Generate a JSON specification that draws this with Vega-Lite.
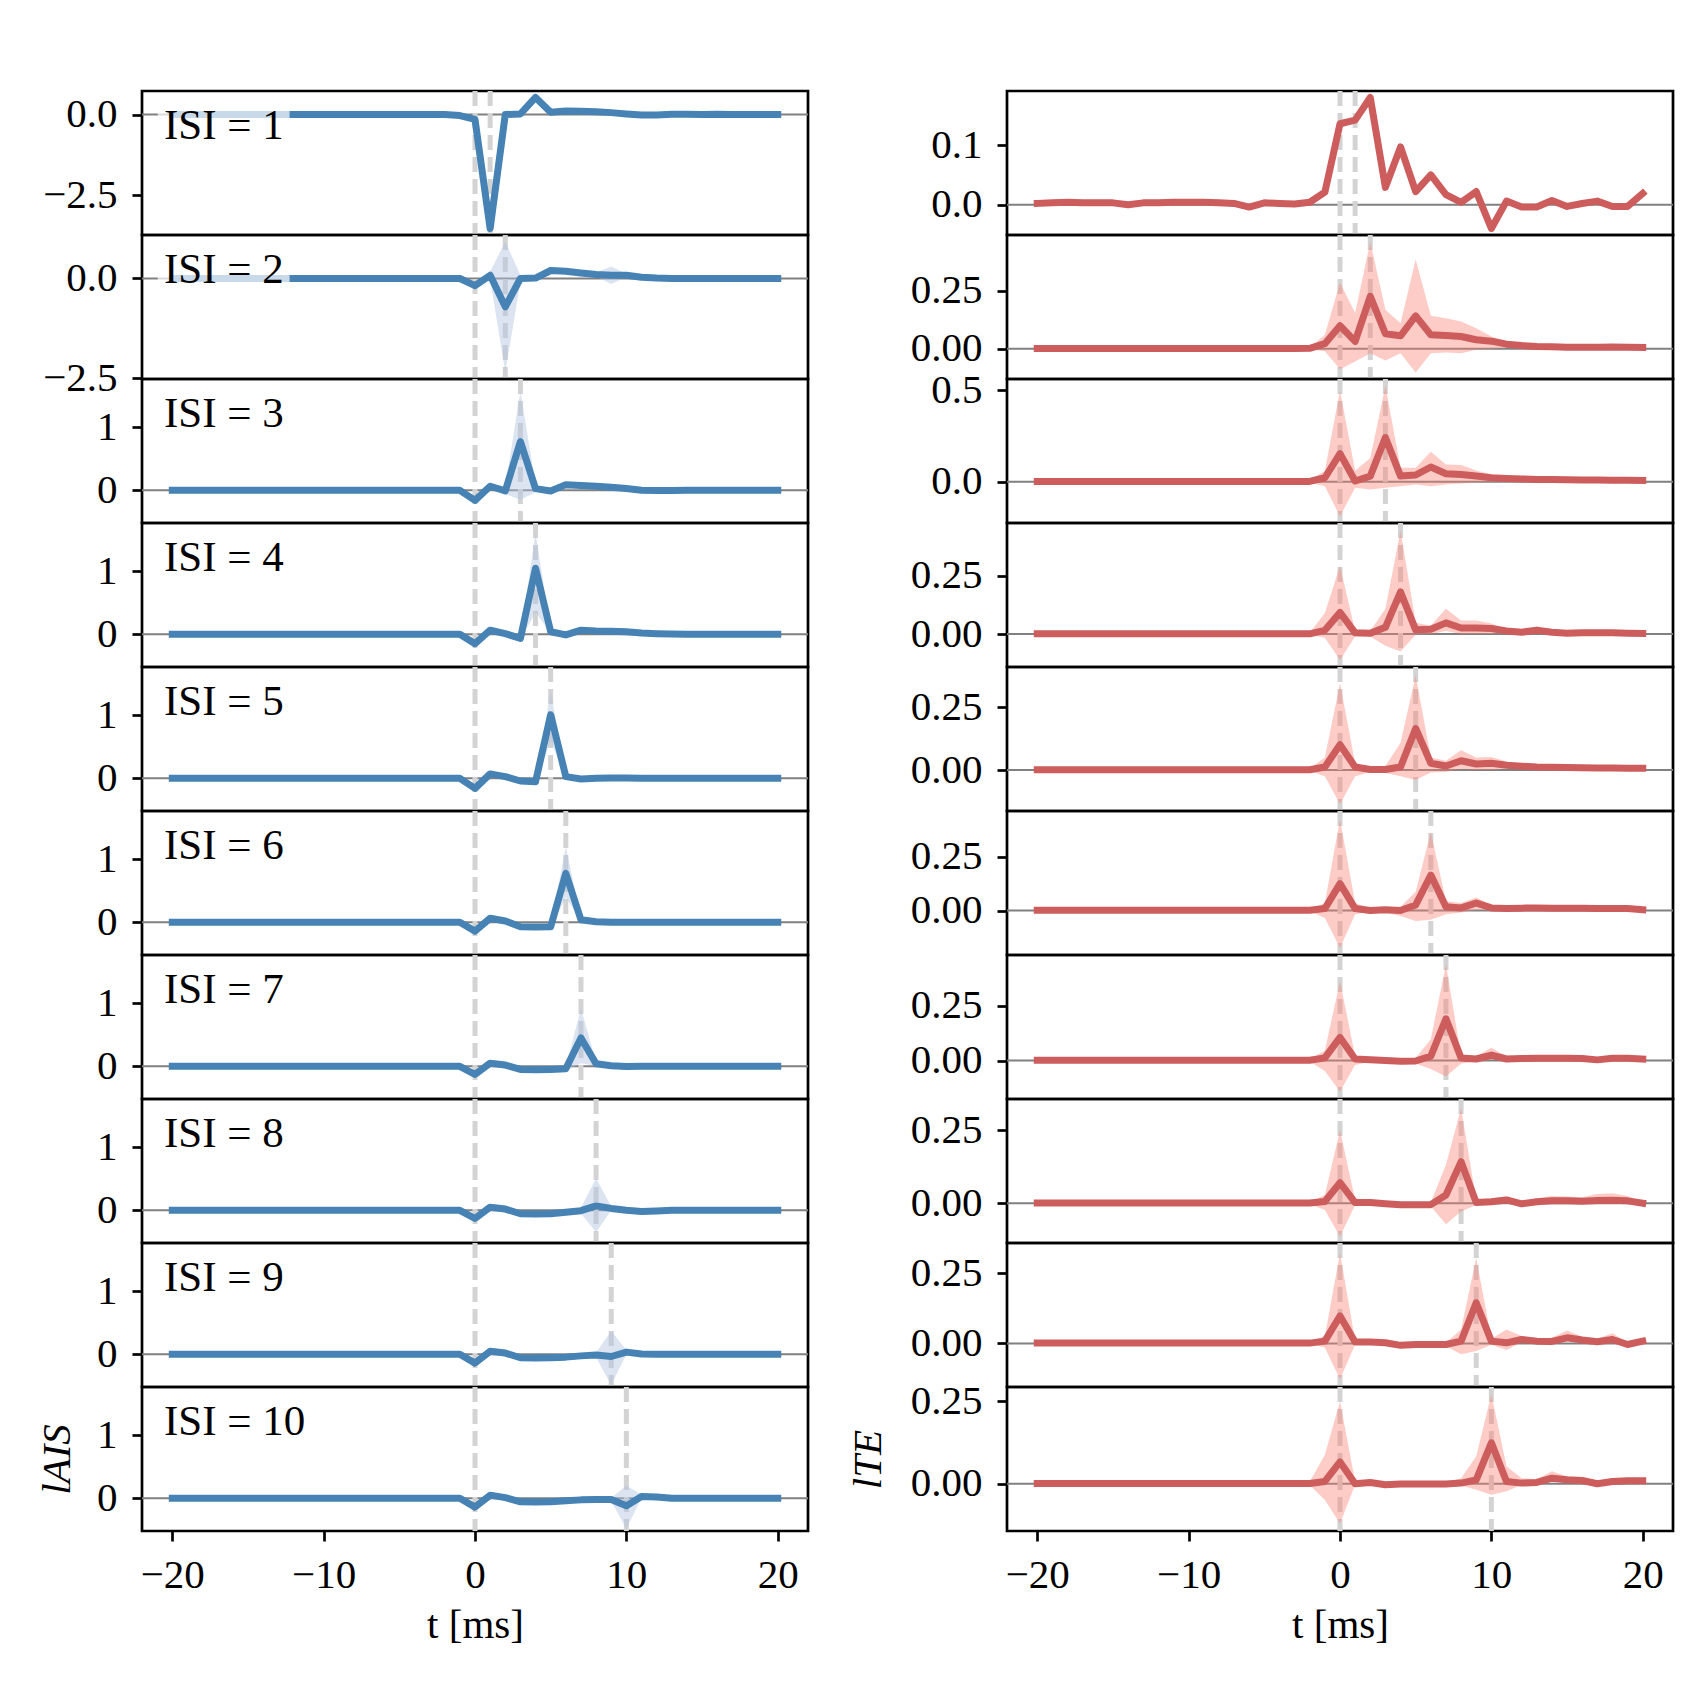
{
"$schema": "https://vega.github.io/schema/vega-lite/v6.json",
"background": "white",
"padding": {"left": 35, "top": 89, "right": 5, "bottom": 5},
"config": {
 "view": {"stroke": "black", "strokeWidth": 2.7},
 "font": "Liberation Serif",
 "concat": {"spacing": 0},
 "line": {"strokeWidth": 7, "strokeJoin": "round", "strokeCap": "square", "clip": true},
 "axis": {"domain": false, "grid": false, "tickColor": "black", "tickWidth": 2.7, "tickSize": 10, "labelFont": "Liberation Serif", "labelFontSize": 41, "labelColor": "black", "labelPadding": 15, "titleFont": "Liberation Serif", "titleFontSize": 41, "titleFontWeight": "normal", "titleColor": "black"}
},
"datasets": {
"panels": [{"isi":1,"label":"ISI = 1"},{"isi":2,"label":"ISI = 2"},{"isi":3,"label":"ISI = 3"},{"isi":4,"label":"ISI = 4"},{"isi":5,"label":"ISI = 5"},{"isi":6,"label":"ISI = 6"},{"isi":7,"label":"ISI = 7"},{"isi":8,"label":"ISI = 8"},{"isi":9,"label":"ISI = 9"},{"isi":10,"label":"ISI = 10"}],
"vlines": [{"isi":1,"t":0},{"isi":1,"t":1},{"isi":2,"t":0},{"isi":2,"t":2},{"isi":3,"t":0},{"isi":3,"t":3},{"isi":4,"t":0},{"isi":4,"t":4},{"isi":5,"t":0},{"isi":5,"t":5},{"isi":6,"t":0},{"isi":6,"t":6},{"isi":7,"t":0},{"isi":7,"t":7},{"isi":8,"t":0},{"isi":8,"t":8},{"isi":9,"t":0},{"isi":9,"t":9},{"isi":10,"t":0},{"isi":10,"t":10}],
"lais": [
{"isi":1,"t":-20,"m":0,"lo":0,"hi":0},{"isi":1,"t":-19,"m":0,"lo":0,"hi":0},{"isi":1,"t":-18,"m":0,"lo":0,"hi":0},{"isi":1,"t":-17,"m":0,"lo":0,"hi":0},{"isi":1,"t":-16,"m":0,"lo":0,"hi":0},{"isi":1,"t":-15,"m":0,"lo":0,"hi":0},{"isi":1,"t":-14,"m":0,"lo":0,"hi":0},{"isi":1,"t":-13,"m":0,"lo":0,"hi":0},{"isi":1,"t":-12,"m":0,"lo":0,"hi":0},{"isi":1,"t":-11,"m":0,"lo":0,"hi":0},{"isi":1,"t":-10,"m":0,"lo":0,"hi":0},{"isi":1,"t":-9,"m":0,"lo":0,"hi":0},{"isi":1,"t":-8,"m":0,"lo":0,"hi":0},{"isi":1,"t":-7,"m":0,"lo":0,"hi":0},{"isi":1,"t":-6,"m":0,"lo":0,"hi":0},{"isi":1,"t":-5,"m":0,"lo":0,"hi":0},{"isi":1,"t":-4,"m":0,"lo":0,"hi":0},{"isi":1,"t":-3,"m":0,"lo":0,"hi":0},{"isi":1,"t":-2,"m":0,"lo":0,"hi":0},
{"isi":1,"t":-1,"m":-0.03,"lo":-0.03,"hi":-0.03},{"isi":1,"t":0,"m":-0.15,"lo":-0.15,"hi":-0.15},{"isi":1,"t":1,"m":-3.53,"lo":-3.53,"hi":-3.53},{"isi":1,"t":2,"m":0,"lo":0,"hi":0},{"isi":1,"t":3,"m":0.02,"lo":0.02,"hi":0.02},{"isi":1,"t":4,"m":0.53,"lo":0.53,"hi":0.53},{"isi":1,"t":5,"m":0.07,"lo":0.07,"hi":0.07},{"isi":1,"t":6,"m":0.11,"lo":0.11,"hi":0.11},{"isi":1,"t":7,"m":0.1,"lo":0.1,"hi":0.1},{"isi":1,"t":8,"m":0.09,"lo":0.09,"hi":0.09},{"isi":1,"t":9,"m":0.06,"lo":0.06,"hi":0.06},{"isi":1,"t":10,"m":0.02,"lo":0.02,"hi":0.02},{"isi":1,"t":11,"m":-0.01,"lo":-0.01,"hi":-0.01},{"isi":1,"t":12,"m":-0.01,"lo":-0.01,"hi":-0.01},{"isi":1,"t":13,"m":0.01,"lo":0.01,"hi":0.01},{"isi":1,"t":14,"m":0.01,"lo":0.01,"hi":0.01},{"isi":1,"t":15,"m":0,"lo":0,"hi":0},{"isi":1,"t":16,"m":0.01,"lo":0.01,"hi":0.01},{"isi":1,"t":17,"m":0,"lo":0,"hi":0},{"isi":1,"t":18,"m":0,"lo":0,"hi":0},{"isi":1,"t":19,"m":0,"lo":0,"hi":0},{"isi":1,"t":20,"m":0,"lo":0,"hi":0},
{"isi":2,"t":-20,"m":0,"lo":0,"hi":0},{"isi":2,"t":-19,"m":0,"lo":0,"hi":0},{"isi":2,"t":-18,"m":0,"lo":0,"hi":0},{"isi":2,"t":-17,"m":0,"lo":0,"hi":0},{"isi":2,"t":-16,"m":0,"lo":0,"hi":0},{"isi":2,"t":-15,"m":0,"lo":0,"hi":0},{"isi":2,"t":-14,"m":0,"lo":0,"hi":0},{"isi":2,"t":-13,"m":0,"lo":0,"hi":0},{"isi":2,"t":-12,"m":0,"lo":0,"hi":0},{"isi":2,"t":-11,"m":0,"lo":0,"hi":0},{"isi":2,"t":-10,"m":0,"lo":0,"hi":0},{"isi":2,"t":-9,"m":0,"lo":0,"hi":0},{"isi":2,"t":-8,"m":0,"lo":0,"hi":0},{"isi":2,"t":-7,"m":0,"lo":0,"hi":0},{"isi":2,"t":-6,"m":0,"lo":0,"hi":0},{"isi":2,"t":-5,"m":0,"lo":0,"hi":0},{"isi":2,"t":-4,"m":0,"lo":0,"hi":0},{"isi":2,"t":-3,"m":0,"lo":0,"hi":0},{"isi":2,"t":-2,"m":0,"lo":0,"hi":0},
{"isi":2,"t":-1,"m":0,"lo":0,"hi":0},{"isi":2,"t":0,"m":-0.18,"lo":-0.22,"hi":-0.13},{"isi":2,"t":1,"m":0.08,"lo":-0.02,"hi":0.16},{"isi":2,"t":2,"m":-0.71,"lo":-2.35,"hi":0.93},{"isi":2,"t":3,"m":0,"lo":-0.08,"hi":0.08},{"isi":2,"t":4,"m":0.01,"lo":-0.02,"hi":0.05},{"isi":2,"t":5,"m":0.2,"lo":0.14,"hi":0.27},{"isi":2,"t":6,"m":0.18,"lo":0.13,"hi":0.24},{"isi":2,"t":7,"m":0.14,"lo":0.1,"hi":0.19},{"isi":2,"t":8,"m":0.1,"lo":0.05,"hi":0.15},{"isi":2,"t":9,"m":0.08,"lo":-0.14,"hi":0.3},{"isi":2,"t":10,"m":0.08,"lo":0.04,"hi":0.12},{"isi":2,"t":11,"m":0.03,"lo":0,"hi":0.06},{"isi":2,"t":12,"m":0.01,"lo":0.01,"hi":0.01},{"isi":2,"t":13,"m":0,"lo":0,"hi":0},{"isi":2,"t":14,"m":0,"lo":0,"hi":0},{"isi":2,"t":15,"m":0,"lo":0,"hi":0},{"isi":2,"t":16,"m":0,"lo":0,"hi":0},{"isi":2,"t":17,"m":0,"lo":0,"hi":0},{"isi":2,"t":18,"m":0,"lo":0,"hi":0},{"isi":2,"t":19,"m":0,"lo":0,"hi":0},{"isi":2,"t":20,"m":0,"lo":0,"hi":0},
{"isi":3,"t":-20,"m":0,"lo":0,"hi":0},{"isi":3,"t":-19,"m":0,"lo":0,"hi":0},{"isi":3,"t":-18,"m":0,"lo":0,"hi":0},{"isi":3,"t":-17,"m":0,"lo":0,"hi":0},{"isi":3,"t":-16,"m":0,"lo":0,"hi":0},{"isi":3,"t":-15,"m":0,"lo":0,"hi":0},{"isi":3,"t":-14,"m":0,"lo":0,"hi":0},{"isi":3,"t":-13,"m":0,"lo":0,"hi":0},{"isi":3,"t":-12,"m":0,"lo":0,"hi":0},{"isi":3,"t":-11,"m":0,"lo":0,"hi":0},{"isi":3,"t":-10,"m":0,"lo":0,"hi":0},{"isi":3,"t":-9,"m":0,"lo":0,"hi":0},{"isi":3,"t":-8,"m":0,"lo":0,"hi":0},{"isi":3,"t":-7,"m":0,"lo":0,"hi":0},{"isi":3,"t":-6,"m":0,"lo":0,"hi":0},{"isi":3,"t":-5,"m":0,"lo":0,"hi":0},{"isi":3,"t":-4,"m":0,"lo":0,"hi":0},{"isi":3,"t":-3,"m":0,"lo":0,"hi":0},{"isi":3,"t":-2,"m":0,"lo":0,"hi":0},
{"isi":3,"t":-1,"m":0,"lo":0,"hi":0},{"isi":3,"t":0,"m":-0.16,"lo":-0.16,"hi":-0.16},{"isi":3,"t":1,"m":0.064,"lo":0.064,"hi":0.064},{"isi":3,"t":2,"m":-0.01,"lo":-0.06,"hi":0.05},{"isi":3,"t":3,"m":0.776,"lo":-0.15,"hi":1.58},{"isi":3,"t":4,"m":0.027,"lo":-0.03,"hi":0.09},{"isi":3,"t":5,"m":-0.01,"lo":-0.01,"hi":-0.01},{"isi":3,"t":6,"m":0.09,"lo":0.09,"hi":0.09},{"isi":3,"t":7,"m":0.075,"lo":0.075,"hi":0.075},{"isi":3,"t":8,"m":0.064,"lo":0.064,"hi":0.064},{"isi":3,"t":9,"m":0.05,"lo":0.05,"hi":0.05},{"isi":3,"t":10,"m":0.027,"lo":0.027,"hi":0.027},{"isi":3,"t":11,"m":0,"lo":0,"hi":0},{"isi":3,"t":12,"m":-0.005,"lo":-0.005,"hi":-0.005},{"isi":3,"t":13,"m":-0.005,"lo":-0.005,"hi":-0.005},{"isi":3,"t":14,"m":0,"lo":0,"hi":0},{"isi":3,"t":15,"m":0,"lo":0,"hi":0},{"isi":3,"t":16,"m":0,"lo":0,"hi":0},{"isi":3,"t":17,"m":0,"lo":0,"hi":0},{"isi":3,"t":18,"m":0,"lo":0,"hi":0},{"isi":3,"t":19,"m":0,"lo":0,"hi":0},{"isi":3,"t":20,"m":0,"lo":0,"hi":0},
{"isi":4,"t":-20,"m":0,"lo":0,"hi":0},{"isi":4,"t":-19,"m":0,"lo":0,"hi":0},{"isi":4,"t":-18,"m":0,"lo":0,"hi":0},{"isi":4,"t":-17,"m":0,"lo":0,"hi":0},{"isi":4,"t":-16,"m":0,"lo":0,"hi":0},{"isi":4,"t":-15,"m":0,"lo":0,"hi":0},{"isi":4,"t":-14,"m":0,"lo":0,"hi":0},{"isi":4,"t":-13,"m":0,"lo":0,"hi":0},{"isi":4,"t":-12,"m":0,"lo":0,"hi":0},{"isi":4,"t":-11,"m":0,"lo":0,"hi":0},{"isi":4,"t":-10,"m":0,"lo":0,"hi":0},{"isi":4,"t":-9,"m":0,"lo":0,"hi":0},{"isi":4,"t":-8,"m":0,"lo":0,"hi":0},{"isi":4,"t":-7,"m":0,"lo":0,"hi":0},{"isi":4,"t":-6,"m":0,"lo":0,"hi":0},{"isi":4,"t":-5,"m":0,"lo":0,"hi":0},{"isi":4,"t":-4,"m":0,"lo":0,"hi":0},{"isi":4,"t":-3,"m":0,"lo":0,"hi":0},{"isi":4,"t":-2,"m":0,"lo":0,"hi":0},
{"isi":4,"t":-1,"m":0,"lo":0,"hi":0},{"isi":4,"t":0,"m":-0.15,"lo":-0.15,"hi":-0.15},{"isi":4,"t":1,"m":0.065,"lo":0.065,"hi":0.065},{"isi":4,"t":2,"m":0.01,"lo":0.01,"hi":0.01},{"isi":4,"t":3,"m":-0.065,"lo":-0.09,"hi":-0.04},{"isi":4,"t":4,"m":1.05,"lo":0.35,"hi":1.62},{"isi":4,"t":5,"m":0.04,"lo":0.02,"hi":0.07},{"isi":4,"t":6,"m":-0.01,"lo":-0.01,"hi":-0.01},{"isi":4,"t":7,"m":0.065,"lo":0.065,"hi":0.065},{"isi":4,"t":8,"m":0.054,"lo":0.054,"hi":0.054},{"isi":4,"t":9,"m":0.05,"lo":0.05,"hi":0.05},{"isi":4,"t":10,"m":0.04,"lo":0.04,"hi":0.04},{"isi":4,"t":11,"m":0.02,"lo":0.02,"hi":0.02},{"isi":4,"t":12,"m":0.01,"lo":0.01,"hi":0.01},{"isi":4,"t":13,"m":0.005,"lo":0.005,"hi":0.005},{"isi":4,"t":14,"m":0,"lo":0,"hi":0},{"isi":4,"t":15,"m":0,"lo":0,"hi":0},{"isi":4,"t":16,"m":0,"lo":0,"hi":0},{"isi":4,"t":17,"m":0,"lo":0,"hi":0},{"isi":4,"t":18,"m":0,"lo":0,"hi":0},{"isi":4,"t":19,"m":0,"lo":0,"hi":0},{"isi":4,"t":20,"m":0,"lo":0,"hi":0},
{"isi":5,"t":-20,"m":0,"lo":0,"hi":0},{"isi":5,"t":-19,"m":0,"lo":0,"hi":0},{"isi":5,"t":-18,"m":0,"lo":0,"hi":0},{"isi":5,"t":-17,"m":0,"lo":0,"hi":0},{"isi":5,"t":-16,"m":0,"lo":0,"hi":0},{"isi":5,"t":-15,"m":0,"lo":0,"hi":0},{"isi":5,"t":-14,"m":0,"lo":0,"hi":0},{"isi":5,"t":-13,"m":0,"lo":0,"hi":0},{"isi":5,"t":-12,"m":0,"lo":0,"hi":0},{"isi":5,"t":-11,"m":0,"lo":0,"hi":0},{"isi":5,"t":-10,"m":0,"lo":0,"hi":0},{"isi":5,"t":-9,"m":0,"lo":0,"hi":0},{"isi":5,"t":-8,"m":0,"lo":0,"hi":0},{"isi":5,"t":-7,"m":0,"lo":0,"hi":0},{"isi":5,"t":-6,"m":0,"lo":0,"hi":0},{"isi":5,"t":-5,"m":0,"lo":0,"hi":0},{"isi":5,"t":-4,"m":0,"lo":0,"hi":0},{"isi":5,"t":-3,"m":0,"lo":0,"hi":0},{"isi":5,"t":-2,"m":0,"lo":0,"hi":0},
{"isi":5,"t":-1,"m":0,"lo":0,"hi":0},{"isi":5,"t":0,"m":-0.16,"lo":-0.16,"hi":-0.16},{"isi":5,"t":1,"m":0.07,"lo":0.07,"hi":0.07},{"isi":5,"t":2,"m":0.027,"lo":0.027,"hi":0.027},{"isi":5,"t":3,"m":-0.043,"lo":-0.043,"hi":-0.043},{"isi":5,"t":4,"m":-0.054,"lo":-0.07,"hi":-0.03},{"isi":5,"t":5,"m":1.01,"lo":0.6,"hi":1.38},{"isi":5,"t":6,"m":0.027,"lo":0,"hi":0.05},{"isi":5,"t":7,"m":-0.01,"lo":-0.01,"hi":-0.01},{"isi":5,"t":8,"m":0,"lo":0,"hi":0},{"isi":5,"t":9,"m":0.005,"lo":0.005,"hi":0.005},{"isi":5,"t":10,"m":0.005,"lo":0.005,"hi":0.005},{"isi":5,"t":11,"m":0,"lo":0,"hi":0},{"isi":5,"t":12,"m":0,"lo":0,"hi":0},{"isi":5,"t":13,"m":0,"lo":0,"hi":0},{"isi":5,"t":14,"m":0,"lo":0,"hi":0},{"isi":5,"t":15,"m":0,"lo":0,"hi":0},{"isi":5,"t":16,"m":0,"lo":0,"hi":0},{"isi":5,"t":17,"m":0,"lo":0,"hi":0},{"isi":5,"t":18,"m":0,"lo":0,"hi":0},{"isi":5,"t":19,"m":0,"lo":0,"hi":0},{"isi":5,"t":20,"m":0,"lo":0,"hi":0},
{"isi":6,"t":-20,"m":0,"lo":0,"hi":0},{"isi":6,"t":-19,"m":0,"lo":0,"hi":0},{"isi":6,"t":-18,"m":0,"lo":0,"hi":0},{"isi":6,"t":-17,"m":0,"lo":0,"hi":0},{"isi":6,"t":-16,"m":0,"lo":0,"hi":0},{"isi":6,"t":-15,"m":0,"lo":0,"hi":0},{"isi":6,"t":-14,"m":0,"lo":0,"hi":0},{"isi":6,"t":-13,"m":0,"lo":0,"hi":0},{"isi":6,"t":-12,"m":0,"lo":0,"hi":0},{"isi":6,"t":-11,"m":0,"lo":0,"hi":0},{"isi":6,"t":-10,"m":0,"lo":0,"hi":0},{"isi":6,"t":-9,"m":0,"lo":0,"hi":0},{"isi":6,"t":-8,"m":0,"lo":0,"hi":0},{"isi":6,"t":-7,"m":0,"lo":0,"hi":0},{"isi":6,"t":-6,"m":0,"lo":0,"hi":0},{"isi":6,"t":-5,"m":0,"lo":0,"hi":0},{"isi":6,"t":-4,"m":0,"lo":0,"hi":0},{"isi":6,"t":-3,"m":0,"lo":0,"hi":0},{"isi":6,"t":-2,"m":0,"lo":0,"hi":0},
{"isi":6,"t":-1,"m":0,"lo":0,"hi":0},{"isi":6,"t":0,"m":-0.14,"lo":-0.14,"hi":-0.14},{"isi":6,"t":1,"m":0.065,"lo":0.065,"hi":0.065},{"isi":6,"t":2,"m":0.02,"lo":0.02,"hi":0.02},{"isi":6,"t":3,"m":-0.07,"lo":-0.07,"hi":-0.07},{"isi":6,"t":4,"m":-0.076,"lo":-0.076,"hi":-0.076},{"isi":6,"t":5,"m":-0.07,"lo":-0.09,"hi":-0.05},{"isi":6,"t":6,"m":0.78,"lo":0.4,"hi":1.2},{"isi":6,"t":7,"m":0.04,"lo":0.02,"hi":0.06},{"isi":6,"t":8,"m":0.01,"lo":0.01,"hi":0.01},{"isi":6,"t":9,"m":0,"lo":0,"hi":0},{"isi":6,"t":10,"m":0,"lo":0,"hi":0},{"isi":6,"t":11,"m":0,"lo":0,"hi":0},{"isi":6,"t":12,"m":0,"lo":0,"hi":0},{"isi":6,"t":13,"m":0,"lo":0,"hi":0},{"isi":6,"t":14,"m":0,"lo":0,"hi":0},{"isi":6,"t":15,"m":0,"lo":0,"hi":0},{"isi":6,"t":16,"m":0,"lo":0,"hi":0},{"isi":6,"t":17,"m":0,"lo":0,"hi":0},{"isi":6,"t":18,"m":0,"lo":0,"hi":0},{"isi":6,"t":19,"m":0,"lo":0,"hi":0},{"isi":6,"t":20,"m":0,"lo":0,"hi":0},
{"isi":7,"t":-20,"m":0,"lo":0,"hi":0},{"isi":7,"t":-19,"m":0,"lo":0,"hi":0},{"isi":7,"t":-18,"m":0,"lo":0,"hi":0},{"isi":7,"t":-17,"m":0,"lo":0,"hi":0},{"isi":7,"t":-16,"m":0,"lo":0,"hi":0},{"isi":7,"t":-15,"m":0,"lo":0,"hi":0},{"isi":7,"t":-14,"m":0,"lo":0,"hi":0},{"isi":7,"t":-13,"m":0,"lo":0,"hi":0},{"isi":7,"t":-12,"m":0,"lo":0,"hi":0},{"isi":7,"t":-11,"m":0,"lo":0,"hi":0},{"isi":7,"t":-10,"m":0,"lo":0,"hi":0},{"isi":7,"t":-9,"m":0,"lo":0,"hi":0},{"isi":7,"t":-8,"m":0,"lo":0,"hi":0},{"isi":7,"t":-7,"m":0,"lo":0,"hi":0},{"isi":7,"t":-6,"m":0,"lo":0,"hi":0},{"isi":7,"t":-5,"m":0,"lo":0,"hi":0},{"isi":7,"t":-4,"m":0,"lo":0,"hi":0},{"isi":7,"t":-3,"m":0,"lo":0,"hi":0},{"isi":7,"t":-2,"m":0,"lo":0,"hi":0},
{"isi":7,"t":-1,"m":0,"lo":0,"hi":0},{"isi":7,"t":0,"m":-0.13,"lo":-0.13,"hi":-0.13},{"isi":7,"t":1,"m":0.05,"lo":0.05,"hi":0.05},{"isi":7,"t":2,"m":0.02,"lo":0.02,"hi":0.02},{"isi":7,"t":3,"m":-0.05,"lo":-0.05,"hi":-0.05},{"isi":7,"t":4,"m":-0.055,"lo":-0.055,"hi":-0.055},{"isi":7,"t":5,"m":-0.05,"lo":-0.05,"hi":-0.05},{"isi":7,"t":6,"m":-0.04,"lo":-0.07,"hi":-0.01},{"isi":7,"t":7,"m":0.45,"lo":0.05,"hi":0.92},{"isi":7,"t":8,"m":0.04,"lo":0.01,"hi":0.07},{"isi":7,"t":9,"m":0.01,"lo":0.01,"hi":0.01},{"isi":7,"t":10,"m":-0.005,"lo":-0.005,"hi":-0.005},{"isi":7,"t":11,"m":0,"lo":0,"hi":0},{"isi":7,"t":12,"m":0,"lo":0,"hi":0},{"isi":7,"t":13,"m":0,"lo":0,"hi":0},{"isi":7,"t":14,"m":0,"lo":0,"hi":0},{"isi":7,"t":15,"m":0,"lo":0,"hi":0},{"isi":7,"t":16,"m":0,"lo":0,"hi":0},{"isi":7,"t":17,"m":0,"lo":0,"hi":0},{"isi":7,"t":18,"m":0,"lo":0,"hi":0},{"isi":7,"t":19,"m":0,"lo":0,"hi":0},{"isi":7,"t":20,"m":0,"lo":0,"hi":0},
{"isi":8,"t":-20,"m":0,"lo":0,"hi":0},{"isi":8,"t":-19,"m":0,"lo":0,"hi":0},{"isi":8,"t":-18,"m":0,"lo":0,"hi":0},{"isi":8,"t":-17,"m":0,"lo":0,"hi":0},{"isi":8,"t":-16,"m":0,"lo":0,"hi":0},{"isi":8,"t":-15,"m":0,"lo":0,"hi":0},{"isi":8,"t":-14,"m":0,"lo":0,"hi":0},{"isi":8,"t":-13,"m":0,"lo":0,"hi":0},{"isi":8,"t":-12,"m":0,"lo":0,"hi":0},{"isi":8,"t":-11,"m":0,"lo":0,"hi":0},{"isi":8,"t":-10,"m":0,"lo":0,"hi":0},{"isi":8,"t":-9,"m":0,"lo":0,"hi":0},{"isi":8,"t":-8,"m":0,"lo":0,"hi":0},{"isi":8,"t":-7,"m":0,"lo":0,"hi":0},{"isi":8,"t":-6,"m":0,"lo":0,"hi":0},{"isi":8,"t":-5,"m":0,"lo":0,"hi":0},{"isi":8,"t":-4,"m":0,"lo":0,"hi":0},{"isi":8,"t":-3,"m":0,"lo":0,"hi":0},{"isi":8,"t":-2,"m":0,"lo":0,"hi":0},
{"isi":8,"t":-1,"m":0,"lo":0,"hi":0},{"isi":8,"t":0,"m":-0.13,"lo":-0.13,"hi":-0.13},{"isi":8,"t":1,"m":0.05,"lo":0.05,"hi":0.05},{"isi":8,"t":2,"m":0.02,"lo":0.02,"hi":0.02},{"isi":8,"t":3,"m":-0.055,"lo":-0.055,"hi":-0.055},{"isi":8,"t":4,"m":-0.06,"lo":-0.06,"hi":-0.06},{"isi":8,"t":5,"m":-0.055,"lo":-0.055,"hi":-0.055},{"isi":8,"t":6,"m":-0.03,"lo":-0.03,"hi":-0.03},{"isi":8,"t":7,"m":-0.006,"lo":-0.05,"hi":0.04},{"isi":8,"t":8,"m":0.07,"lo":-0.35,"hi":0.51},{"isi":8,"t":9,"m":0.03,"lo":0,"hi":0.06},{"isi":8,"t":10,"m":0,"lo":0,"hi":0},{"isi":8,"t":11,"m":-0.02,"lo":-0.02,"hi":-0.02},{"isi":8,"t":12,"m":-0.01,"lo":-0.01,"hi":-0.01},{"isi":8,"t":13,"m":0,"lo":0,"hi":0},{"isi":8,"t":14,"m":0,"lo":0,"hi":0},{"isi":8,"t":15,"m":0,"lo":0,"hi":0},{"isi":8,"t":16,"m":0,"lo":0,"hi":0},{"isi":8,"t":17,"m":0,"lo":0,"hi":0},{"isi":8,"t":18,"m":0,"lo":0,"hi":0},{"isi":8,"t":19,"m":0,"lo":0,"hi":0},{"isi":8,"t":20,"m":0,"lo":0,"hi":0},
{"isi":9,"t":-20,"m":0,"lo":0,"hi":0},{"isi":9,"t":-19,"m":0,"lo":0,"hi":0},{"isi":9,"t":-18,"m":0,"lo":0,"hi":0},{"isi":9,"t":-17,"m":0,"lo":0,"hi":0},{"isi":9,"t":-16,"m":0,"lo":0,"hi":0},{"isi":9,"t":-15,"m":0,"lo":0,"hi":0},{"isi":9,"t":-14,"m":0,"lo":0,"hi":0},{"isi":9,"t":-13,"m":0,"lo":0,"hi":0},{"isi":9,"t":-12,"m":0,"lo":0,"hi":0},{"isi":9,"t":-11,"m":0,"lo":0,"hi":0},{"isi":9,"t":-10,"m":0,"lo":0,"hi":0},{"isi":9,"t":-9,"m":0,"lo":0,"hi":0},{"isi":9,"t":-8,"m":0,"lo":0,"hi":0},{"isi":9,"t":-7,"m":0,"lo":0,"hi":0},{"isi":9,"t":-6,"m":0,"lo":0,"hi":0},{"isi":9,"t":-5,"m":0,"lo":0,"hi":0},{"isi":9,"t":-4,"m":0,"lo":0,"hi":0},{"isi":9,"t":-3,"m":0,"lo":0,"hi":0},{"isi":9,"t":-2,"m":0,"lo":0,"hi":0},
{"isi":9,"t":-1,"m":0,"lo":0,"hi":0},{"isi":9,"t":0,"m":-0.14,"lo":-0.14,"hi":-0.14},{"isi":9,"t":1,"m":0.05,"lo":0.05,"hi":0.05},{"isi":9,"t":2,"m":0.02,"lo":0.02,"hi":0.02},{"isi":9,"t":3,"m":-0.055,"lo":-0.055,"hi":-0.055},{"isi":9,"t":4,"m":-0.06,"lo":-0.06,"hi":-0.06},{"isi":9,"t":5,"m":-0.055,"lo":-0.055,"hi":-0.055},{"isi":9,"t":6,"m":-0.045,"lo":-0.045,"hi":-0.045},{"isi":9,"t":7,"m":-0.025,"lo":-0.025,"hi":-0.025},{"isi":9,"t":8,"m":-0.012,"lo":-0.05,"hi":0.03},{"isi":9,"t":9,"m":-0.035,"lo":-0.49,"hi":0.37},{"isi":9,"t":10,"m":0.035,"lo":0,"hi":0.07},{"isi":9,"t":11,"m":0.005,"lo":0.005,"hi":0.005},{"isi":9,"t":12,"m":0,"lo":0,"hi":0},{"isi":9,"t":13,"m":0,"lo":0,"hi":0},{"isi":9,"t":14,"m":0,"lo":0,"hi":0},{"isi":9,"t":15,"m":0,"lo":0,"hi":0},{"isi":9,"t":16,"m":0,"lo":0,"hi":0},{"isi":9,"t":17,"m":0,"lo":0,"hi":0},{"isi":9,"t":18,"m":0,"lo":0,"hi":0},{"isi":9,"t":19,"m":0,"lo":0,"hi":0},{"isi":9,"t":20,"m":0,"lo":0,"hi":0},
{"isi":10,"t":-20,"m":0,"lo":0,"hi":0},{"isi":10,"t":-19,"m":0,"lo":0,"hi":0},{"isi":10,"t":-18,"m":0,"lo":0,"hi":0},{"isi":10,"t":-17,"m":0,"lo":0,"hi":0},{"isi":10,"t":-16,"m":0,"lo":0,"hi":0},{"isi":10,"t":-15,"m":0,"lo":0,"hi":0},{"isi":10,"t":-14,"m":0,"lo":0,"hi":0},{"isi":10,"t":-13,"m":0,"lo":0,"hi":0},{"isi":10,"t":-12,"m":0,"lo":0,"hi":0},{"isi":10,"t":-11,"m":0,"lo":0,"hi":0},{"isi":10,"t":-10,"m":0,"lo":0,"hi":0},{"isi":10,"t":-9,"m":0,"lo":0,"hi":0},{"isi":10,"t":-8,"m":0,"lo":0,"hi":0},{"isi":10,"t":-7,"m":0,"lo":0,"hi":0},{"isi":10,"t":-6,"m":0,"lo":0,"hi":0},{"isi":10,"t":-5,"m":0,"lo":0,"hi":0},{"isi":10,"t":-4,"m":0,"lo":0,"hi":0},{"isi":10,"t":-3,"m":0,"lo":0,"hi":0},{"isi":10,"t":-2,"m":0,"lo":0,"hi":0},
{"isi":10,"t":-1,"m":0,"lo":0,"hi":0},{"isi":10,"t":0,"m":-0.14,"lo":-0.14,"hi":-0.14},{"isi":10,"t":1,"m":0.05,"lo":0.05,"hi":0.05},{"isi":10,"t":2,"m":0.01,"lo":0.01,"hi":0.01},{"isi":10,"t":3,"m":-0.055,"lo":-0.055,"hi":-0.055},{"isi":10,"t":4,"m":-0.06,"lo":-0.06,"hi":-0.06},{"isi":10,"t":5,"m":-0.055,"lo":-0.055,"hi":-0.055},{"isi":10,"t":6,"m":-0.04,"lo":-0.04,"hi":-0.04},{"isi":10,"t":7,"m":-0.025,"lo":-0.025,"hi":-0.025},{"isi":10,"t":8,"m":-0.02,"lo":-0.02,"hi":-0.02},{"isi":10,"t":9,"m":-0.02,"lo":-0.05,"hi":0.01},{"isi":10,"t":10,"m":-0.12,"lo":-0.48,"hi":0.2},{"isi":10,"t":11,"m":0.03,"lo":0,"hi":0.06},{"isi":10,"t":12,"m":0.02,"lo":0.02,"hi":0.02},{"isi":10,"t":13,"m":0,"lo":0,"hi":0},{"isi":10,"t":14,"m":0,"lo":0,"hi":0},{"isi":10,"t":15,"m":0,"lo":0,"hi":0},{"isi":10,"t":16,"m":0,"lo":0,"hi":0},{"isi":10,"t":17,"m":0,"lo":0,"hi":0},{"isi":10,"t":18,"m":0,"lo":0,"hi":0},{"isi":10,"t":19,"m":0,"lo":0,"hi":0},{"isi":10,"t":20,"m":0,"lo":0,"hi":0}
],
"lte": [
{"isi":1,"t":-20,"m":0.002,"lo":0.002,"hi":0.002},{"isi":1,"t":-19,"m":0.003,"lo":0.003,"hi":0.003},{"isi":1,"t":-18,"m":0.004,"lo":0.004,"hi":0.004},{"isi":1,"t":-17,"m":0.003,"lo":0.003,"hi":0.003},{"isi":1,"t":-16,"m":0.003,"lo":0.003,"hi":0.003},{"isi":1,"t":-15,"m":0.003,"lo":0.003,"hi":0.003},{"isi":1,"t":-14,"m":0,"lo":0,"hi":0},{"isi":1,"t":-13,"m":0.003,"lo":0.003,"hi":0.003},{"isi":1,"t":-12,"m":0.003,"lo":0.003,"hi":0.003},{"isi":1,"t":-11,"m":0.004,"lo":0.004,"hi":0.004},{"isi":1,"t":-10,"m":0.004,"lo":0.004,"hi":0.004},{"isi":1,"t":-9,"m":0.004,"lo":0.004,"hi":0.004},{"isi":1,"t":-8,"m":0.003,"lo":0.003,"hi":0.003},{"isi":1,"t":-7,"m":0.002,"lo":0.002,"hi":0.002},{"isi":1,"t":-6,"m":-0.004,"lo":-0.004,"hi":-0.004},{"isi":1,"t":-5,"m":0.003,"lo":0.003,"hi":0.003},{"isi":1,"t":-4,"m":0.002,"lo":0.002,"hi":0.002},{"isi":1,"t":-3,"m":0.001,"lo":0.001,"hi":0.001},{"isi":1,"t":-2,"m":0.004,"lo":0.004,"hi":0.004},
{"isi":1,"t":-1,"m":0.021,"lo":0.021,"hi":0.021},{"isi":1,"t":0,"m":0.136,"lo":0.136,"hi":0.136},{"isi":1,"t":1,"m":0.142,"lo":0.142,"hi":0.142},{"isi":1,"t":2,"m":0.18,"lo":0.18,"hi":0.18},{"isi":1,"t":3,"m":0.029,"lo":0.029,"hi":0.029},{"isi":1,"t":4,"m":0.097,"lo":0.097,"hi":0.097},{"isi":1,"t":5,"m":0.022,"lo":0.022,"hi":0.022},{"isi":1,"t":6,"m":0.05,"lo":0.05,"hi":0.05},{"isi":1,"t":7,"m":0.017,"lo":0.017,"hi":0.017},{"isi":1,"t":8,"m":0.004,"lo":0.004,"hi":0.004},{"isi":1,"t":9,"m":0.022,"lo":0.022,"hi":0.022},{"isi":1,"t":10,"m":-0.04,"lo":-0.04,"hi":-0.04},{"isi":1,"t":11,"m":0.006,"lo":0.006,"hi":0.006},{"isi":1,"t":12,"m":-0.004,"lo":-0.004,"hi":-0.004},{"isi":1,"t":13,"m":-0.004,"lo":-0.004,"hi":-0.004},{"isi":1,"t":14,"m":0.007,"lo":0.007,"hi":0.007},{"isi":1,"t":15,"m":-0.003,"lo":-0.003,"hi":-0.003},{"isi":1,"t":16,"m":0.002,"lo":0.002,"hi":0.002},{"isi":1,"t":17,"m":0.006,"lo":0.006,"hi":0.006},{"isi":1,"t":18,"m":-0.003,"lo":-0.003,"hi":-0.003},{"isi":1,"t":19,"m":-0.003,"lo":-0.003,"hi":-0.003},{"isi":1,"t":20,"m":0.019,"lo":0.019,"hi":0.019},
{"isi":2,"t":-20,"m":0.001,"lo":0,"hi":0.002},{"isi":2,"t":-19,"m":0.001,"lo":0,"hi":0.002},{"isi":2,"t":-18,"m":0.001,"lo":0,"hi":0.002},{"isi":2,"t":-17,"m":0.001,"lo":0,"hi":0.002},{"isi":2,"t":-16,"m":0.001,"lo":0,"hi":0.002},{"isi":2,"t":-15,"m":0.001,"lo":0,"hi":0.002},{"isi":2,"t":-14,"m":0.001,"lo":0,"hi":0.002},{"isi":2,"t":-13,"m":0.001,"lo":0,"hi":0.002},{"isi":2,"t":-12,"m":0.001,"lo":0,"hi":0.002},{"isi":2,"t":-11,"m":0.001,"lo":0,"hi":0.002},{"isi":2,"t":-10,"m":0.001,"lo":0,"hi":0.002},{"isi":2,"t":-9,"m":0.001,"lo":0,"hi":0.002},{"isi":2,"t":-8,"m":0.001,"lo":0,"hi":0.002},{"isi":2,"t":-7,"m":0.001,"lo":0,"hi":0.002},{"isi":2,"t":-6,"m":0.001,"lo":0,"hi":0.002},{"isi":2,"t":-5,"m":0.001,"lo":0,"hi":0.002},{"isi":2,"t":-4,"m":0.001,"lo":0,"hi":0.002},{"isi":2,"t":-3,"m":0.001,"lo":0,"hi":0.002},
{"isi":2,"t":-2,"m":0.002,"lo":-0.003,"hi":0.006},{"isi":2,"t":-1,"m":0.022,"lo":-0.011,"hi":0.06},{"isi":2,"t":0,"m":0.099,"lo":-0.088,"hi":0.286},{"isi":2,"t":1,"m":0.032,"lo":-0.055,"hi":0.154},{"isi":2,"t":2,"m":0.226,"lo":-0.019,"hi":0.46},{"isi":2,"t":3,"m":0.065,"lo":-0.05,"hi":0.168},{"isi":2,"t":4,"m":0.056,"lo":-0.019,"hi":0.11},{"isi":2,"t":5,"m":0.142,"lo":-0.102,"hi":0.384},{"isi":2,"t":6,"m":0.06,"lo":-0.019,"hi":0.142},{"isi":2,"t":7,"m":0.057,"lo":-0.016,"hi":0.132},{"isi":2,"t":8,"m":0.053,"lo":-0.019,"hi":0.118},{"isi":2,"t":9,"m":0.039,"lo":-0.004,"hi":0.089},{"isi":2,"t":10,"m":0.033,"lo":0,"hi":0.053},{"isi":2,"t":11,"m":0.02,"lo":0.005,"hi":0.032},{"isi":2,"t":12,"m":0.014,"lo":0.008,"hi":0.02},{"isi":2,"t":13,"m":0.01,"lo":0.006,"hi":0.014},{"isi":2,"t":14,"m":0.009,"lo":0.005,"hi":0.013},{"isi":2,"t":15,"m":0.007,"lo":0.003,"hi":0.011},{"isi":2,"t":16,"m":0.007,"lo":0.003,"hi":0.011},{"isi":2,"t":17,"m":0.007,"lo":0.003,"hi":0.011},{"isi":2,"t":18,"m":0.008,"lo":0.004,"hi":0.012},{"isi":2,"t":19,"m":0.007,"lo":0.003,"hi":0.011},{"isi":2,"t":20,"m":0.006,"lo":0.002,"hi":0.01},
{"isi":3,"t":-20,"m":0.001,"lo":0,"hi":0.002},{"isi":3,"t":-19,"m":0.001,"lo":0,"hi":0.002},{"isi":3,"t":-18,"m":0.001,"lo":0,"hi":0.002},{"isi":3,"t":-17,"m":0.001,"lo":0,"hi":0.002},{"isi":3,"t":-16,"m":0.001,"lo":0,"hi":0.002},{"isi":3,"t":-15,"m":0.001,"lo":0,"hi":0.002},{"isi":3,"t":-14,"m":0.001,"lo":0,"hi":0.002},{"isi":3,"t":-13,"m":0.001,"lo":0,"hi":0.002},{"isi":3,"t":-12,"m":0.001,"lo":0,"hi":0.002},{"isi":3,"t":-11,"m":0.001,"lo":0,"hi":0.002},{"isi":3,"t":-10,"m":0.001,"lo":0,"hi":0.002},{"isi":3,"t":-9,"m":0.001,"lo":0,"hi":0.002},{"isi":3,"t":-8,"m":0.001,"lo":0,"hi":0.002},{"isi":3,"t":-7,"m":0.001,"lo":0,"hi":0.002},{"isi":3,"t":-6,"m":0.001,"lo":0,"hi":0.002},{"isi":3,"t":-5,"m":0.001,"lo":0,"hi":0.002},{"isi":3,"t":-4,"m":0.001,"lo":0,"hi":0.002},{"isi":3,"t":-3,"m":0.001,"lo":0,"hi":0.002},
{"isi":3,"t":-2,"m":0.002,"lo":-0.004,"hi":0.008},{"isi":3,"t":-1,"m":0.022,"lo":-0.024,"hi":0.06},{"isi":3,"t":0,"m":0.154,"lo":-0.19,"hi":0.5},{"isi":3,"t":1,"m":0.004,"lo":-0.033,"hi":0.06},{"isi":3,"t":2,"m":0.031,"lo":-0.042,"hi":0.13},{"isi":3,"t":3,"m":0.242,"lo":-0.033,"hi":0.525},{"isi":3,"t":4,"m":0.031,"lo":-0.024,"hi":0.077},{"isi":3,"t":5,"m":0.037,"lo":-0.015,"hi":0.077},{"isi":3,"t":6,"m":0.081,"lo":-0.024,"hi":0.165},{"isi":3,"t":7,"m":0.044,"lo":-0.015,"hi":0.095},{"isi":3,"t":8,"m":0.04,"lo":-0.01,"hi":0.092},{"isi":3,"t":9,"m":0.031,"lo":-0.005,"hi":0.062},{"isi":3,"t":10,"m":0.022,"lo":0,"hi":0.04},{"isi":3,"t":11,"m":0.018,"lo":0.004,"hi":0.028},{"isi":3,"t":12,"m":0.015,"lo":0.005,"hi":0.022},{"isi":3,"t":13,"m":0.013,"lo":0.005,"hi":0.019},{"isi":3,"t":14,"m":0.012,"lo":0.005,"hi":0.017},{"isi":3,"t":15,"m":0.011,"lo":0.004,"hi":0.016},{"isi":3,"t":16,"m":0.01,"lo":0.004,"hi":0.015},{"isi":3,"t":17,"m":0.009,"lo":0.003,"hi":0.014},{"isi":3,"t":18,"m":0.008,"lo":0.003,"hi":0.013},{"isi":3,"t":19,"m":0.008,"lo":0.003,"hi":0.013},{"isi":3,"t":20,"m":0.007,"lo":0.002,"hi":0.012},
{"isi":4,"t":-20,"m":0.001,"lo":0,"hi":0.002},{"isi":4,"t":-19,"m":0.001,"lo":0,"hi":0.002},{"isi":4,"t":-18,"m":0.001,"lo":0,"hi":0.002},{"isi":4,"t":-17,"m":0.001,"lo":0,"hi":0.002},{"isi":4,"t":-16,"m":0.001,"lo":0,"hi":0.002},{"isi":4,"t":-15,"m":0.001,"lo":0,"hi":0.002},{"isi":4,"t":-14,"m":0.001,"lo":0,"hi":0.002},{"isi":4,"t":-13,"m":0.001,"lo":0,"hi":0.002},{"isi":4,"t":-12,"m":0.001,"lo":0,"hi":0.002},{"isi":4,"t":-11,"m":0.001,"lo":0,"hi":0.002},{"isi":4,"t":-10,"m":0.001,"lo":0,"hi":0.002},{"isi":4,"t":-9,"m":0.001,"lo":0,"hi":0.002},{"isi":4,"t":-8,"m":0.001,"lo":0,"hi":0.002},{"isi":4,"t":-7,"m":0.001,"lo":0,"hi":0.002},{"isi":4,"t":-6,"m":0.001,"lo":0,"hi":0.002},{"isi":4,"t":-5,"m":0.001,"lo":0,"hi":0.002},{"isi":4,"t":-4,"m":0.001,"lo":0,"hi":0.002},{"isi":4,"t":-3,"m":0.001,"lo":0,"hi":0.002},
{"isi":4,"t":-2,"m":0.001,"lo":-0.004,"hi":0.006},{"isi":4,"t":-1,"m":0.016,"lo":-0.016,"hi":0.09},{"isi":4,"t":0,"m":0.093,"lo":-0.112,"hi":0.294},{"isi":4,"t":1,"m":0.005,"lo":-0.011,"hi":0.013},{"isi":4,"t":2,"m":0.003,"lo":-0.011,"hi":0.013},{"isi":4,"t":3,"m":0.029,"lo":-0.051,"hi":0.109},{"isi":4,"t":4,"m":0.181,"lo":-0.075,"hi":0.446},{"isi":4,"t":5,"m":0.018,"lo":-0.003,"hi":0.048},{"isi":4,"t":6,"m":0.021,"lo":0,"hi":0.037},{"isi":4,"t":7,"m":0.048,"lo":0.013,"hi":0.109},{"isi":4,"t":8,"m":0.026,"lo":0,"hi":0.058},{"isi":4,"t":9,"m":0.026,"lo":0,"hi":0.058},{"isi":4,"t":10,"m":0.024,"lo":0,"hi":0.045},{"isi":4,"t":11,"m":0.013,"lo":0.005,"hi":0.021},{"isi":4,"t":12,"m":0.008,"lo":0.002,"hi":0.013},{"isi":4,"t":13,"m":0.016,"lo":0.005,"hi":0.032},{"isi":4,"t":14,"m":0.008,"lo":0.002,"hi":0.016},{"isi":4,"t":15,"m":0.003,"lo":-0.002,"hi":0.008},{"isi":4,"t":16,"m":0.005,"lo":0,"hi":0.01},{"isi":4,"t":17,"m":0.005,"lo":0,"hi":0.01},{"isi":4,"t":18,"m":0.005,"lo":0,"hi":0.01},{"isi":4,"t":19,"m":0.003,"lo":-0.002,"hi":0.008},{"isi":4,"t":20,"m":0.002,"lo":-0.002,"hi":0.006},
{"isi":5,"t":-20,"m":0.001,"lo":0,"hi":0.002},{"isi":5,"t":-19,"m":0.001,"lo":0,"hi":0.002},{"isi":5,"t":-18,"m":0.001,"lo":0,"hi":0.002},{"isi":5,"t":-17,"m":0.001,"lo":0,"hi":0.002},{"isi":5,"t":-16,"m":0.001,"lo":0,"hi":0.002},{"isi":5,"t":-15,"m":0.001,"lo":0,"hi":0.002},{"isi":5,"t":-14,"m":0.001,"lo":0,"hi":0.002},{"isi":5,"t":-13,"m":0.001,"lo":0,"hi":0.002},{"isi":5,"t":-12,"m":0.001,"lo":0,"hi":0.002},{"isi":5,"t":-11,"m":0.001,"lo":0,"hi":0.002},{"isi":5,"t":-10,"m":0.001,"lo":0,"hi":0.002},{"isi":5,"t":-9,"m":0.001,"lo":0,"hi":0.002},{"isi":5,"t":-8,"m":0.001,"lo":0,"hi":0.002},{"isi":5,"t":-7,"m":0.001,"lo":0,"hi":0.002},{"isi":5,"t":-6,"m":0.001,"lo":0,"hi":0.002},{"isi":5,"t":-5,"m":0.001,"lo":0,"hi":0.002},{"isi":5,"t":-4,"m":0.001,"lo":0,"hi":0.002},{"isi":5,"t":-3,"m":0.001,"lo":0,"hi":0.002},
{"isi":5,"t":-2,"m":0.001,"lo":-0.004,"hi":0.006},{"isi":5,"t":-1,"m":0.012,"lo":-0.025,"hi":0.05},{"isi":5,"t":0,"m":0.101,"lo":-0.137,"hi":0.348},{"isi":5,"t":1,"m":0.012,"lo":-0.025,"hi":0.027},{"isi":5,"t":2,"m":0.002,"lo":-0.008,"hi":0.008},{"isi":5,"t":3,"m":0.002,"lo":-0.012,"hi":0.016},{"isi":5,"t":4,"m":0.012,"lo":-0.025,"hi":0.109},{"isi":5,"t":5,"m":0.166,"lo":-0.04,"hi":0.378},{"isi":5,"t":6,"m":0.027,"lo":-0.01,"hi":0.05},{"isi":5,"t":7,"m":0.016,"lo":-0.008,"hi":0.037},{"isi":5,"t":8,"m":0.037,"lo":0.004,"hi":0.079},{"isi":5,"t":9,"m":0.024,"lo":0,"hi":0.05},{"isi":5,"t":10,"m":0.027,"lo":0,"hi":0.052},{"isi":5,"t":11,"m":0.019,"lo":0.005,"hi":0.034},{"isi":5,"t":12,"m":0.015,"lo":0.005,"hi":0.022},{"isi":5,"t":13,"m":0.012,"lo":0.004,"hi":0.018},{"isi":5,"t":14,"m":0.011,"lo":0.004,"hi":0.016},{"isi":5,"t":15,"m":0.01,"lo":0.003,"hi":0.015},{"isi":5,"t":16,"m":0.009,"lo":0.003,"hi":0.014},{"isi":5,"t":17,"m":0.008,"lo":0.002,"hi":0.013},{"isi":5,"t":18,"m":0.008,"lo":0.002,"hi":0.013},{"isi":5,"t":19,"m":0.007,"lo":0.002,"hi":0.012},{"isi":5,"t":20,"m":0.007,"lo":0.002,"hi":0.012},
{"isi":6,"t":-20,"m":0.001,"lo":0,"hi":0.002},{"isi":6,"t":-19,"m":0.001,"lo":0,"hi":0.002},{"isi":6,"t":-18,"m":0.001,"lo":0,"hi":0.002},{"isi":6,"t":-17,"m":0.001,"lo":0,"hi":0.002},{"isi":6,"t":-16,"m":0.001,"lo":0,"hi":0.002},{"isi":6,"t":-15,"m":0.001,"lo":0,"hi":0.002},{"isi":6,"t":-14,"m":0.001,"lo":0,"hi":0.002},{"isi":6,"t":-13,"m":0.001,"lo":0,"hi":0.002},{"isi":6,"t":-12,"m":0.001,"lo":0,"hi":0.002},{"isi":6,"t":-11,"m":0.001,"lo":0,"hi":0.002},{"isi":6,"t":-10,"m":0.001,"lo":0,"hi":0.002},{"isi":6,"t":-9,"m":0.001,"lo":0,"hi":0.002},{"isi":6,"t":-8,"m":0.001,"lo":0,"hi":0.002},{"isi":6,"t":-7,"m":0.001,"lo":0,"hi":0.002},{"isi":6,"t":-6,"m":0.001,"lo":0,"hi":0.002},{"isi":6,"t":-5,"m":0.001,"lo":0,"hi":0.002},{"isi":6,"t":-4,"m":0.001,"lo":0,"hi":0.002},{"isi":6,"t":-3,"m":0.001,"lo":0,"hi":0.002},
{"isi":6,"t":-2,"m":0.001,"lo":-0.004,"hi":0.006},{"isi":6,"t":-1,"m":0.009,"lo":-0.035,"hi":0.035},{"isi":6,"t":0,"m":0.125,"lo":-0.174,"hi":0.425},{"isi":6,"t":1,"m":0.009,"lo":-0.017,"hi":0.035},{"isi":6,"t":2,"m":0,"lo":-0.005,"hi":0.009},{"isi":6,"t":3,"m":0.003,"lo":-0.009,"hi":0.009},{"isi":6,"t":4,"m":0,"lo":-0.026,"hi":0.017},{"isi":6,"t":5,"m":0.026,"lo":-0.049,"hi":0.087},{"isi":6,"t":6,"m":0.165,"lo":-0.043,"hi":0.365},{"isi":6,"t":7,"m":0.017,"lo":-0.017,"hi":0.043},{"isi":6,"t":8,"m":0.012,"lo":-0.009,"hi":0.035},{"isi":6,"t":9,"m":0.035,"lo":0.003,"hi":0.061},{"isi":6,"t":10,"m":0.012,"lo":0,"hi":0.026},{"isi":6,"t":11,"m":0.009,"lo":0.002,"hi":0.017},{"isi":6,"t":12,"m":0.011,"lo":0.004,"hi":0.016},{"isi":6,"t":13,"m":0.012,"lo":0.005,"hi":0.017},{"isi":6,"t":14,"m":0.011,"lo":0.004,"hi":0.016},{"isi":6,"t":15,"m":0.01,"lo":0.004,"hi":0.015},{"isi":6,"t":16,"m":0.01,"lo":0.004,"hi":0.015},{"isi":6,"t":17,"m":0.009,"lo":0.003,"hi":0.014},{"isi":6,"t":18,"m":0.009,"lo":0.003,"hi":0.014},{"isi":6,"t":19,"m":0.009,"lo":0.003,"hi":0.014},{"isi":6,"t":20,"m":0.004,"lo":-0.002,"hi":0.009},
{"isi":7,"t":-20,"m":0.001,"lo":0,"hi":0.002},{"isi":7,"t":-19,"m":0.001,"lo":0,"hi":0.002},{"isi":7,"t":-18,"m":0.001,"lo":0,"hi":0.002},{"isi":7,"t":-17,"m":0.001,"lo":0,"hi":0.002},{"isi":7,"t":-16,"m":0.001,"lo":0,"hi":0.002},{"isi":7,"t":-15,"m":0.001,"lo":0,"hi":0.002},{"isi":7,"t":-14,"m":0.001,"lo":0,"hi":0.002},{"isi":7,"t":-13,"m":0.001,"lo":0,"hi":0.002},{"isi":7,"t":-12,"m":0.001,"lo":0,"hi":0.002},{"isi":7,"t":-11,"m":0.001,"lo":0,"hi":0.002},{"isi":7,"t":-10,"m":0.001,"lo":0,"hi":0.002},{"isi":7,"t":-9,"m":0.001,"lo":0,"hi":0.002},{"isi":7,"t":-8,"m":0.001,"lo":0,"hi":0.002},{"isi":7,"t":-7,"m":0.001,"lo":0,"hi":0.002},{"isi":7,"t":-6,"m":0.001,"lo":0,"hi":0.002},{"isi":7,"t":-5,"m":0.001,"lo":0,"hi":0.002},{"isi":7,"t":-4,"m":0.001,"lo":0,"hi":0.002},{"isi":7,"t":-3,"m":0.001,"lo":0,"hi":0.002},
{"isi":7,"t":-2,"m":0.001,"lo":-0.004,"hi":0.006},{"isi":7,"t":-1,"m":0.012,"lo":-0.048,"hi":0.046},{"isi":7,"t":0,"m":0.105,"lo":-0.141,"hi":0.36},{"isi":7,"t":1,"m":0.007,"lo":-0.02,"hi":0.02},{"isi":7,"t":2,"m":0.003,"lo":-0.005,"hi":0.009},{"isi":7,"t":3,"m":0,"lo":-0.005,"hi":0.003},{"isi":7,"t":4,"m":-0.003,"lo":-0.01,"hi":0.007},{"isi":7,"t":5,"m":-0.002,"lo":-0.014,"hi":0.012},{"isi":7,"t":6,"m":0.02,"lo":-0.039,"hi":0.097},{"isi":7,"t":7,"m":0.19,"lo":-0.073,"hi":0.437},{"isi":7,"t":8,"m":0.012,"lo":-0.014,"hi":0.02},{"isi":7,"t":9,"m":0.007,"lo":-0.005,"hi":0.02},{"isi":7,"t":10,"m":0.024,"lo":0.003,"hi":0.058},{"isi":7,"t":11,"m":0.007,"lo":0.001,"hi":0.02},{"isi":7,"t":12,"m":0.009,"lo":0.003,"hi":0.015},{"isi":7,"t":13,"m":0.01,"lo":0.004,"hi":0.015},{"isi":7,"t":14,"m":0.01,"lo":0.004,"hi":0.015},{"isi":7,"t":15,"m":0.01,"lo":0.004,"hi":0.015},{"isi":7,"t":16,"m":0.009,"lo":0.003,"hi":0.014},{"isi":7,"t":17,"m":0.003,"lo":-0.003,"hi":0.008},{"isi":7,"t":18,"m":0.01,"lo":0.004,"hi":0.015},{"isi":7,"t":19,"m":0.01,"lo":0.004,"hi":0.015},{"isi":7,"t":20,"m":0.007,"lo":0.001,"hi":0.012},
{"isi":8,"t":-20,"m":0.001,"lo":0,"hi":0.002},{"isi":8,"t":-19,"m":0.001,"lo":0,"hi":0.002},{"isi":8,"t":-18,"m":0.001,"lo":0,"hi":0.002},{"isi":8,"t":-17,"m":0.001,"lo":0,"hi":0.002},{"isi":8,"t":-16,"m":0.001,"lo":0,"hi":0.002},{"isi":8,"t":-15,"m":0.001,"lo":0,"hi":0.002},{"isi":8,"t":-14,"m":0.001,"lo":0,"hi":0.002},{"isi":8,"t":-13,"m":0.001,"lo":0,"hi":0.002},{"isi":8,"t":-12,"m":0.001,"lo":0,"hi":0.002},{"isi":8,"t":-11,"m":0.001,"lo":0,"hi":0.002},{"isi":8,"t":-10,"m":0.001,"lo":0,"hi":0.002},{"isi":8,"t":-9,"m":0.001,"lo":0,"hi":0.002},{"isi":8,"t":-8,"m":0.001,"lo":0,"hi":0.002},{"isi":8,"t":-7,"m":0.001,"lo":0,"hi":0.002},{"isi":8,"t":-6,"m":0.001,"lo":0,"hi":0.002},{"isi":8,"t":-5,"m":0.001,"lo":0,"hi":0.002},{"isi":8,"t":-4,"m":0.001,"lo":0,"hi":0.002},{"isi":8,"t":-3,"m":0.001,"lo":0,"hi":0.002},
{"isi":8,"t":-2,"m":0.001,"lo":-0.003,"hi":0.005},{"isi":8,"t":-1,"m":0.006,"lo":-0.023,"hi":0.028},{"isi":8,"t":0,"m":0.07,"lo":-0.114,"hi":0.25},{"isi":8,"t":1,"m":0.002,"lo":-0.006,"hi":0.011},{"isi":8,"t":2,"m":0.002,"lo":-0.002,"hi":0.005},{"isi":8,"t":3,"m":-0.002,"lo":-0.006,"hi":0.001},{"isi":8,"t":4,"m":-0.005,"lo":-0.009,"hi":-0.002},{"isi":8,"t":5,"m":-0.005,"lo":-0.009,"hi":-0.002},{"isi":8,"t":6,"m":-0.005,"lo":-0.011,"hi":0.003},{"isi":8,"t":7,"m":0.028,"lo":-0.072,"hi":0.131},{"isi":8,"t":8,"m":0.142,"lo":-0.028,"hi":0.324},{"isi":8,"t":9,"m":0.002,"lo":-0.006,"hi":0.011},{"isi":8,"t":10,"m":0.005,"lo":-0.002,"hi":0.017},{"isi":8,"t":11,"m":0.011,"lo":0,"hi":0.023},{"isi":8,"t":12,"m":-0.002,"lo":-0.008,"hi":0.006},{"isi":8,"t":13,"m":0.005,"lo":-0.002,"hi":0.017},{"isi":8,"t":14,"m":0.008,"lo":0,"hi":0.025},{"isi":8,"t":15,"m":0.008,"lo":0,"hi":0.023},{"isi":8,"t":16,"m":0.007,"lo":0,"hi":0.02},{"isi":8,"t":17,"m":0.009,"lo":0,"hi":0.031},{"isi":8,"t":18,"m":0.01,"lo":0,"hi":0.034},{"isi":8,"t":19,"m":0.008,"lo":0,"hi":0.025},{"isi":8,"t":20,"m":0,"lo":-0.005,"hi":0.006},
{"isi":9,"t":-20,"m":0.001,"lo":0,"hi":0.002},{"isi":9,"t":-19,"m":0.001,"lo":0,"hi":0.002},{"isi":9,"t":-18,"m":0.001,"lo":0,"hi":0.002},{"isi":9,"t":-17,"m":0.001,"lo":0,"hi":0.002},{"isi":9,"t":-16,"m":0.001,"lo":0,"hi":0.002},{"isi":9,"t":-15,"m":0.001,"lo":0,"hi":0.002},{"isi":9,"t":-14,"m":0.001,"lo":0,"hi":0.002},{"isi":9,"t":-13,"m":0.001,"lo":0,"hi":0.002},{"isi":9,"t":-12,"m":0.001,"lo":0,"hi":0.002},{"isi":9,"t":-11,"m":0.001,"lo":0,"hi":0.002},{"isi":9,"t":-10,"m":0.001,"lo":0,"hi":0.002},{"isi":9,"t":-9,"m":0.001,"lo":0,"hi":0.002},{"isi":9,"t":-8,"m":0.001,"lo":0,"hi":0.002},{"isi":9,"t":-7,"m":0.001,"lo":0,"hi":0.002},{"isi":9,"t":-6,"m":0.001,"lo":0,"hi":0.002},{"isi":9,"t":-5,"m":0.001,"lo":0,"hi":0.002},{"isi":9,"t":-4,"m":0.001,"lo":0,"hi":0.002},{"isi":9,"t":-3,"m":0.001,"lo":0,"hi":0.002},
{"isi":9,"t":-2,"m":0.001,"lo":-0.003,"hi":0.005},{"isi":9,"t":-1,"m":0.008,"lo":-0.015,"hi":0.026},{"isi":9,"t":0,"m":0.098,"lo":-0.128,"hi":0.323},{"isi":9,"t":1,"m":0.005,"lo":-0.004,"hi":0.01},{"isi":9,"t":2,"m":0.005,"lo":0,"hi":0.009},{"isi":9,"t":3,"m":0.002,"lo":-0.003,"hi":0.006},{"isi":9,"t":4,"m":-0.007,"lo":-0.012,"hi":-0.003},{"isi":9,"t":5,"m":-0.004,"lo":-0.009,"hi":0},{"isi":9,"t":6,"m":-0.004,"lo":-0.009,"hi":0},{"isi":9,"t":7,"m":-0.004,"lo":-0.01,"hi":0.002},{"isi":9,"t":8,"m":0.008,"lo":-0.039,"hi":0.05},{"isi":9,"t":9,"m":0.145,"lo":-0.027,"hi":0.306},{"isi":9,"t":10,"m":0.008,"lo":-0.005,"hi":0.017},{"isi":9,"t":11,"m":0.002,"lo":-0.024,"hi":0.05},{"isi":9,"t":12,"m":0.014,"lo":0.004,"hi":0.026},{"isi":9,"t":13,"m":0.008,"lo":0.002,"hi":0.017},{"isi":9,"t":14,"m":0.007,"lo":0.001,"hi":0.02},{"isi":9,"t":15,"m":0.02,"lo":0.008,"hi":0.046},{"isi":9,"t":16,"m":0.012,"lo":0.005,"hi":0.024},{"isi":9,"t":17,"m":0.006,"lo":0,"hi":0.017},{"isi":9,"t":18,"m":0.014,"lo":0.006,"hi":0.036},{"isi":9,"t":19,"m":-0.004,"lo":-0.01,"hi":0.003},{"isi":9,"t":20,"m":0.008,"lo":0.002,"hi":0.014},
{"isi":10,"t":-20,"m":0.001,"lo":0,"hi":0.002},{"isi":10,"t":-19,"m":0.001,"lo":0,"hi":0.002},{"isi":10,"t":-18,"m":0.001,"lo":0,"hi":0.002},{"isi":10,"t":-17,"m":0.001,"lo":0,"hi":0.002},{"isi":10,"t":-16,"m":0.001,"lo":0,"hi":0.002},{"isi":10,"t":-15,"m":0.001,"lo":0,"hi":0.002},{"isi":10,"t":-14,"m":0.001,"lo":0,"hi":0.002},{"isi":10,"t":-13,"m":0.001,"lo":0,"hi":0.002},{"isi":10,"t":-12,"m":0.001,"lo":0,"hi":0.002},{"isi":10,"t":-11,"m":0.001,"lo":0,"hi":0.002},{"isi":10,"t":-10,"m":0.001,"lo":0,"hi":0.002},{"isi":10,"t":-9,"m":0.001,"lo":0,"hi":0.002},{"isi":10,"t":-8,"m":0.001,"lo":0,"hi":0.002},{"isi":10,"t":-7,"m":0.001,"lo":0,"hi":0.002},{"isi":10,"t":-6,"m":0.001,"lo":0,"hi":0.002},{"isi":10,"t":-5,"m":0.001,"lo":0,"hi":0.002},{"isi":10,"t":-4,"m":0.001,"lo":0,"hi":0.002},{"isi":10,"t":-3,"m":0.001,"lo":0,"hi":0.002},
{"isi":10,"t":-2,"m":0.001,"lo":-0.004,"hi":0.006},{"isi":10,"t":-1,"m":0.007,"lo":-0.049,"hi":0.088},{"isi":10,"t":0,"m":0.066,"lo":-0.12,"hi":0.25},{"isi":10,"t":1,"m":0,"lo":-0.003,"hi":0.007},{"isi":10,"t":2,"m":0.004,"lo":0,"hi":0.008},{"isi":10,"t":3,"m":-0.003,"lo":-0.007,"hi":0.001},{"isi":10,"t":4,"m":-0.001,"lo":-0.005,"hi":0.003},{"isi":10,"t":5,"m":-0.001,"lo":-0.005,"hi":0.003},{"isi":10,"t":6,"m":-0.001,"lo":-0.005,"hi":0.003},{"isi":10,"t":7,"m":-0.001,"lo":-0.005,"hi":0.003},{"isi":10,"t":8,"m":0.002,"lo":-0.005,"hi":0.017},{"isi":10,"t":9,"m":0.012,"lo":-0.018,"hi":0.083},{"isi":10,"t":10,"m":0.124,"lo":-0.033,"hi":0.271},{"isi":10,"t":11,"m":0.007,"lo":-0.023,"hi":0.053},{"isi":10,"t":12,"m":0.002,"lo":-0.004,"hi":0.017},{"isi":10,"t":13,"m":0.004,"lo":-0.001,"hi":0.014},{"isi":10,"t":14,"m":0.017,"lo":0.005,"hi":0.038},{"isi":10,"t":15,"m":0.012,"lo":0.005,"hi":0.022},{"isi":10,"t":16,"m":0.01,"lo":0.005,"hi":0.015},{"isi":10,"t":17,"m":0,"lo":-0.005,"hi":0.005},{"isi":10,"t":18,"m":0.007,"lo":0.002,"hi":0.012},{"isi":10,"t":19,"m":0.009,"lo":0.004,"hi":0.014},{"isi":10,"t":20,"m":0.009,"lo":0.004,"hi":0.014}
]
},
"spacing": 35,
"hconcat": [
{"spacing": 0, "bounds": "flush", "vconcat": [
{"width": 666, "height": 144, "layer": [
 {"data": {"name": "panels"}, "transform": [{"filter": "datum.isi == 1"}], "mark": {"type": "rule", "color": "#808080", "strokeWidth": 2, "clip": true}, "encoding": {"y": {"datum": 0, "type": "quantitative", "scale": {"domain": [-3.73, 0.73], "nice": false, "zero": false}, "axis": {"values": [-2.5, 0], "format": ".1f", "title": null}}}},
 {"data": {"name": "vlines"}, "transform": [{"filter": "datum.isi == 1"}], "mark": {"type": "rule", "color": "#d3d3d3", "strokeWidth": 5, "strokeDash": [15, 7], "clip": true}, "encoding": {"x": {"field": "t", "type": "quantitative", "scale": {"domain": [-22, 22], "nice": false, "zero": false}, "axis": null}}},
 {"data": {"name": "lais"}, "transform": [{"filter": "datum.isi == 1"}], "mark": {"type": "area", "color": "#b0c4de", "opacity": 0.45, "clip": true}, "encoding": {"x": {"field": "t", "type": "quantitative", "scale": {"domain": [-22, 22], "nice": false, "zero": false}, "axis": null}, "y": {"field": "lo", "type": "quantitative", "scale": {"domain": [-3.73, 0.73], "nice": false, "zero": false}, "axis": {"values": [-2.5, 0], "format": ".1f", "title": null}}, "y2": {"field": "hi"}}},
 {"data": {"name": "lais"}, "transform": [{"filter": "datum.isi == 1"}], "mark": {"type": "line", "color": "#4682b4"}, "encoding": {"x": {"field": "t", "type": "quantitative", "scale": {"domain": [-22, 22], "nice": false, "zero": false}, "axis": null}, "y": {"field": "m", "type": "quantitative", "scale": {"domain": [-3.73, 0.73], "nice": false, "zero": false}, "axis": {"values": [-2.5, 0], "format": ".1f", "title": null}}}},
 {"data": {"name": "panels"}, "transform": [{"filter": "datum.isi == 1"}], "mark": {"type": "rect", "color": "white", "opacity": 0.7}, "encoding": {"x": {"datum": -20.96, "type": "quantitative", "axis": null}, "x2": {"datum": -12.25}, "y": {"datum": 0.513, "type": "quantitative", "axis": {"values": [-2.5, 0], "format": ".1f", "title": null}}, "y2": {"datum": -1.128}}},
 {"data": {"name": "panels"}, "transform": [{"filter": "datum.isi == 1"}], "mark": {"type": "text", "align": "left", "baseline": "alphabetic", "dy": 48, "fontSize": 43, "font": "Liberation Serif", "color": "black"}, "encoding": {"x": {"datum": -20.55, "type": "quantitative", "axis": null}, "y": {"datum": 0.73, "type": "quantitative", "axis": {"values": [-2.5, 0], "format": ".1f", "title": null}}, "text": {"field": "label"}}}
]},
{"width": 666, "height": 144, "layer": [
 {"data": {"name": "panels"}, "transform": [{"filter": "datum.isi == 2"}], "mark": {"type": "rule", "color": "#808080", "strokeWidth": 2, "clip": true}, "encoding": {"y": {"datum": 0, "type": "quantitative", "scale": {"domain": [-2.52, 1.09], "nice": false, "zero": false}, "axis": {"values": [-2.5, 0], "format": ".1f", "title": null}}}},
 {"data": {"name": "vlines"}, "transform": [{"filter": "datum.isi == 2"}], "mark": {"type": "rule", "color": "#d3d3d3", "strokeWidth": 5, "strokeDash": [15, 7], "clip": true}, "encoding": {"x": {"field": "t", "type": "quantitative", "scale": {"domain": [-22, 22], "nice": false, "zero": false}, "axis": null}}},
 {"data": {"name": "lais"}, "transform": [{"filter": "datum.isi == 2"}], "mark": {"type": "area", "color": "#b0c4de", "opacity": 0.45, "clip": true}, "encoding": {"x": {"field": "t", "type": "quantitative", "scale": {"domain": [-22, 22], "nice": false, "zero": false}, "axis": null}, "y": {"field": "lo", "type": "quantitative", "scale": {"domain": [-2.52, 1.09], "nice": false, "zero": false}, "axis": {"values": [-2.5, 0], "format": ".1f", "title": null}}, "y2": {"field": "hi"}}},
 {"data": {"name": "lais"}, "transform": [{"filter": "datum.isi == 2"}], "mark": {"type": "line", "color": "#4682b4"}, "encoding": {"x": {"field": "t", "type": "quantitative", "scale": {"domain": [-22, 22], "nice": false, "zero": false}, "axis": null}, "y": {"field": "m", "type": "quantitative", "scale": {"domain": [-2.52, 1.09], "nice": false, "zero": false}, "axis": {"values": [-2.5, 0], "format": ".1f", "title": null}}}},
 {"data": {"name": "panels"}, "transform": [{"filter": "datum.isi == 2"}], "mark": {"type": "rect", "color": "white", "opacity": 0.7}, "encoding": {"x": {"datum": -20.96, "type": "quantitative", "axis": null}, "x2": {"datum": -12.25}, "y": {"datum": 0.914, "type": "quantitative", "axis": {"values": [-2.5, 0], "format": ".1f", "title": null}}, "y2": {"datum": -0.415}}},
 {"data": {"name": "panels"}, "transform": [{"filter": "datum.isi == 2"}], "mark": {"type": "text", "align": "left", "baseline": "alphabetic", "dy": 48, "fontSize": 43, "font": "Liberation Serif", "color": "black"}, "encoding": {"x": {"datum": -20.55, "type": "quantitative", "axis": null}, "y": {"datum": 1.09, "type": "quantitative", "axis": {"values": [-2.5, 0], "format": ".1f", "title": null}}, "text": {"field": "label"}}}
]},
{"width": 666, "height": 144, "layer": [
 {"data": {"name": "panels"}, "transform": [{"filter": "datum.isi == 3"}], "mark": {"type": "rule", "color": "#808080", "strokeWidth": 2, "clip": true}, "encoding": {"y": {"datum": 0, "type": "quantitative", "scale": {"domain": [-0.52, 1.77], "nice": false, "zero": false}, "axis": {"values": [0, 1], "format": "d", "title": null}}}},
 {"data": {"name": "vlines"}, "transform": [{"filter": "datum.isi == 3"}], "mark": {"type": "rule", "color": "#d3d3d3", "strokeWidth": 5, "strokeDash": [15, 7], "clip": true}, "encoding": {"x": {"field": "t", "type": "quantitative", "scale": {"domain": [-22, 22], "nice": false, "zero": false}, "axis": null}}},
 {"data": {"name": "lais"}, "transform": [{"filter": "datum.isi == 3"}], "mark": {"type": "area", "color": "#b0c4de", "opacity": 0.45, "clip": true}, "encoding": {"x": {"field": "t", "type": "quantitative", "scale": {"domain": [-22, 22], "nice": false, "zero": false}, "axis": null}, "y": {"field": "lo", "type": "quantitative", "scale": {"domain": [-0.52, 1.77], "nice": false, "zero": false}, "axis": {"values": [0, 1], "format": "d", "title": null}}, "y2": {"field": "hi"}}},
 {"data": {"name": "lais"}, "transform": [{"filter": "datum.isi == 3"}], "mark": {"type": "line", "color": "#4682b4"}, "encoding": {"x": {"field": "t", "type": "quantitative", "scale": {"domain": [-22, 22], "nice": false, "zero": false}, "axis": null}, "y": {"field": "m", "type": "quantitative", "scale": {"domain": [-0.52, 1.77], "nice": false, "zero": false}, "axis": {"values": [0, 1], "format": "d", "title": null}}}},
 {"data": {"name": "panels"}, "transform": [{"filter": "datum.isi == 3"}], "mark": {"type": "text", "align": "left", "baseline": "alphabetic", "dy": 48, "fontSize": 43, "font": "Liberation Serif", "color": "black"}, "encoding": {"x": {"datum": -20.55, "type": "quantitative", "axis": null}, "y": {"datum": 1.77, "type": "quantitative", "axis": {"values": [0, 1], "format": "d", "title": null}}, "text": {"field": "label"}}}
]},
{"width": 666, "height": 144, "layer": [
 {"data": {"name": "panels"}, "transform": [{"filter": "datum.isi == 4"}], "mark": {"type": "rule", "color": "#808080", "strokeWidth": 2, "clip": true}, "encoding": {"y": {"datum": 0, "type": "quantitative", "scale": {"domain": [-0.52, 1.77], "nice": false, "zero": false}, "axis": {"values": [0, 1], "format": "d", "title": null}}}},
 {"data": {"name": "vlines"}, "transform": [{"filter": "datum.isi == 4"}], "mark": {"type": "rule", "color": "#d3d3d3", "strokeWidth": 5, "strokeDash": [15, 7], "clip": true}, "encoding": {"x": {"field": "t", "type": "quantitative", "scale": {"domain": [-22, 22], "nice": false, "zero": false}, "axis": null}}},
 {"data": {"name": "lais"}, "transform": [{"filter": "datum.isi == 4"}], "mark": {"type": "area", "color": "#b0c4de", "opacity": 0.45, "clip": true}, "encoding": {"x": {"field": "t", "type": "quantitative", "scale": {"domain": [-22, 22], "nice": false, "zero": false}, "axis": null}, "y": {"field": "lo", "type": "quantitative", "scale": {"domain": [-0.52, 1.77], "nice": false, "zero": false}, "axis": {"values": [0, 1], "format": "d", "title": null}}, "y2": {"field": "hi"}}},
 {"data": {"name": "lais"}, "transform": [{"filter": "datum.isi == 4"}], "mark": {"type": "line", "color": "#4682b4"}, "encoding": {"x": {"field": "t", "type": "quantitative", "scale": {"domain": [-22, 22], "nice": false, "zero": false}, "axis": null}, "y": {"field": "m", "type": "quantitative", "scale": {"domain": [-0.52, 1.77], "nice": false, "zero": false}, "axis": {"values": [0, 1], "format": "d", "title": null}}}},
 {"data": {"name": "panels"}, "transform": [{"filter": "datum.isi == 4"}], "mark": {"type": "text", "align": "left", "baseline": "alphabetic", "dy": 48, "fontSize": 43, "font": "Liberation Serif", "color": "black"}, "encoding": {"x": {"datum": -20.55, "type": "quantitative", "axis": null}, "y": {"datum": 1.77, "type": "quantitative", "axis": {"values": [0, 1], "format": "d", "title": null}}, "text": {"field": "label"}}}
]},
{"width": 666, "height": 144, "layer": [
 {"data": {"name": "panels"}, "transform": [{"filter": "datum.isi == 5"}], "mark": {"type": "rule", "color": "#808080", "strokeWidth": 2, "clip": true}, "encoding": {"y": {"datum": 0, "type": "quantitative", "scale": {"domain": [-0.52, 1.77], "nice": false, "zero": false}, "axis": {"values": [0, 1], "format": "d", "title": null}}}},
 {"data": {"name": "vlines"}, "transform": [{"filter": "datum.isi == 5"}], "mark": {"type": "rule", "color": "#d3d3d3", "strokeWidth": 5, "strokeDash": [15, 7], "clip": true}, "encoding": {"x": {"field": "t", "type": "quantitative", "scale": {"domain": [-22, 22], "nice": false, "zero": false}, "axis": null}}},
 {"data": {"name": "lais"}, "transform": [{"filter": "datum.isi == 5"}], "mark": {"type": "area", "color": "#b0c4de", "opacity": 0.45, "clip": true}, "encoding": {"x": {"field": "t", "type": "quantitative", "scale": {"domain": [-22, 22], "nice": false, "zero": false}, "axis": null}, "y": {"field": "lo", "type": "quantitative", "scale": {"domain": [-0.52, 1.77], "nice": false, "zero": false}, "axis": {"values": [0, 1], "format": "d", "title": null}}, "y2": {"field": "hi"}}},
 {"data": {"name": "lais"}, "transform": [{"filter": "datum.isi == 5"}], "mark": {"type": "line", "color": "#4682b4"}, "encoding": {"x": {"field": "t", "type": "quantitative", "scale": {"domain": [-22, 22], "nice": false, "zero": false}, "axis": null}, "y": {"field": "m", "type": "quantitative", "scale": {"domain": [-0.52, 1.77], "nice": false, "zero": false}, "axis": {"values": [0, 1], "format": "d", "title": null}}}},
 {"data": {"name": "panels"}, "transform": [{"filter": "datum.isi == 5"}], "mark": {"type": "text", "align": "left", "baseline": "alphabetic", "dy": 48, "fontSize": 43, "font": "Liberation Serif", "color": "black"}, "encoding": {"x": {"datum": -20.55, "type": "quantitative", "axis": null}, "y": {"datum": 1.77, "type": "quantitative", "axis": {"values": [0, 1], "format": "d", "title": null}}, "text": {"field": "label"}}}
]},
{"width": 666, "height": 144, "layer": [
 {"data": {"name": "panels"}, "transform": [{"filter": "datum.isi == 6"}], "mark": {"type": "rule", "color": "#808080", "strokeWidth": 2, "clip": true}, "encoding": {"y": {"datum": 0, "type": "quantitative", "scale": {"domain": [-0.52, 1.77], "nice": false, "zero": false}, "axis": {"values": [0, 1], "format": "d", "title": null}}}},
 {"data": {"name": "vlines"}, "transform": [{"filter": "datum.isi == 6"}], "mark": {"type": "rule", "color": "#d3d3d3", "strokeWidth": 5, "strokeDash": [15, 7], "clip": true}, "encoding": {"x": {"field": "t", "type": "quantitative", "scale": {"domain": [-22, 22], "nice": false, "zero": false}, "axis": null}}},
 {"data": {"name": "lais"}, "transform": [{"filter": "datum.isi == 6"}], "mark": {"type": "area", "color": "#b0c4de", "opacity": 0.45, "clip": true}, "encoding": {"x": {"field": "t", "type": "quantitative", "scale": {"domain": [-22, 22], "nice": false, "zero": false}, "axis": null}, "y": {"field": "lo", "type": "quantitative", "scale": {"domain": [-0.52, 1.77], "nice": false, "zero": false}, "axis": {"values": [0, 1], "format": "d", "title": null}}, "y2": {"field": "hi"}}},
 {"data": {"name": "lais"}, "transform": [{"filter": "datum.isi == 6"}], "mark": {"type": "line", "color": "#4682b4"}, "encoding": {"x": {"field": "t", "type": "quantitative", "scale": {"domain": [-22, 22], "nice": false, "zero": false}, "axis": null}, "y": {"field": "m", "type": "quantitative", "scale": {"domain": [-0.52, 1.77], "nice": false, "zero": false}, "axis": {"values": [0, 1], "format": "d", "title": null}}}},
 {"data": {"name": "panels"}, "transform": [{"filter": "datum.isi == 6"}], "mark": {"type": "text", "align": "left", "baseline": "alphabetic", "dy": 48, "fontSize": 43, "font": "Liberation Serif", "color": "black"}, "encoding": {"x": {"datum": -20.55, "type": "quantitative", "axis": null}, "y": {"datum": 1.77, "type": "quantitative", "axis": {"values": [0, 1], "format": "d", "title": null}}, "text": {"field": "label"}}}
]},
{"width": 666, "height": 144, "layer": [
 {"data": {"name": "panels"}, "transform": [{"filter": "datum.isi == 7"}], "mark": {"type": "rule", "color": "#808080", "strokeWidth": 2, "clip": true}, "encoding": {"y": {"datum": 0, "type": "quantitative", "scale": {"domain": [-0.52, 1.77], "nice": false, "zero": false}, "axis": {"values": [0, 1], "format": "d", "title": null}}}},
 {"data": {"name": "vlines"}, "transform": [{"filter": "datum.isi == 7"}], "mark": {"type": "rule", "color": "#d3d3d3", "strokeWidth": 5, "strokeDash": [15, 7], "clip": true}, "encoding": {"x": {"field": "t", "type": "quantitative", "scale": {"domain": [-22, 22], "nice": false, "zero": false}, "axis": null}}},
 {"data": {"name": "lais"}, "transform": [{"filter": "datum.isi == 7"}], "mark": {"type": "area", "color": "#b0c4de", "opacity": 0.45, "clip": true}, "encoding": {"x": {"field": "t", "type": "quantitative", "scale": {"domain": [-22, 22], "nice": false, "zero": false}, "axis": null}, "y": {"field": "lo", "type": "quantitative", "scale": {"domain": [-0.52, 1.77], "nice": false, "zero": false}, "axis": {"values": [0, 1], "format": "d", "title": null}}, "y2": {"field": "hi"}}},
 {"data": {"name": "lais"}, "transform": [{"filter": "datum.isi == 7"}], "mark": {"type": "line", "color": "#4682b4"}, "encoding": {"x": {"field": "t", "type": "quantitative", "scale": {"domain": [-22, 22], "nice": false, "zero": false}, "axis": null}, "y": {"field": "m", "type": "quantitative", "scale": {"domain": [-0.52, 1.77], "nice": false, "zero": false}, "axis": {"values": [0, 1], "format": "d", "title": null}}}},
 {"data": {"name": "panels"}, "transform": [{"filter": "datum.isi == 7"}], "mark": {"type": "text", "align": "left", "baseline": "alphabetic", "dy": 48, "fontSize": 43, "font": "Liberation Serif", "color": "black"}, "encoding": {"x": {"datum": -20.55, "type": "quantitative", "axis": null}, "y": {"datum": 1.77, "type": "quantitative", "axis": {"values": [0, 1], "format": "d", "title": null}}, "text": {"field": "label"}}}
]},
{"width": 666, "height": 144, "layer": [
 {"data": {"name": "panels"}, "transform": [{"filter": "datum.isi == 8"}], "mark": {"type": "rule", "color": "#808080", "strokeWidth": 2, "clip": true}, "encoding": {"y": {"datum": 0, "type": "quantitative", "scale": {"domain": [-0.52, 1.77], "nice": false, "zero": false}, "axis": {"values": [0, 1], "format": "d", "title": null}}}},
 {"data": {"name": "vlines"}, "transform": [{"filter": "datum.isi == 8"}], "mark": {"type": "rule", "color": "#d3d3d3", "strokeWidth": 5, "strokeDash": [15, 7], "clip": true}, "encoding": {"x": {"field": "t", "type": "quantitative", "scale": {"domain": [-22, 22], "nice": false, "zero": false}, "axis": null}}},
 {"data": {"name": "lais"}, "transform": [{"filter": "datum.isi == 8"}], "mark": {"type": "area", "color": "#b0c4de", "opacity": 0.45, "clip": true}, "encoding": {"x": {"field": "t", "type": "quantitative", "scale": {"domain": [-22, 22], "nice": false, "zero": false}, "axis": null}, "y": {"field": "lo", "type": "quantitative", "scale": {"domain": [-0.52, 1.77], "nice": false, "zero": false}, "axis": {"values": [0, 1], "format": "d", "title": null}}, "y2": {"field": "hi"}}},
 {"data": {"name": "lais"}, "transform": [{"filter": "datum.isi == 8"}], "mark": {"type": "line", "color": "#4682b4"}, "encoding": {"x": {"field": "t", "type": "quantitative", "scale": {"domain": [-22, 22], "nice": false, "zero": false}, "axis": null}, "y": {"field": "m", "type": "quantitative", "scale": {"domain": [-0.52, 1.77], "nice": false, "zero": false}, "axis": {"values": [0, 1], "format": "d", "title": null}}}},
 {"data": {"name": "panels"}, "transform": [{"filter": "datum.isi == 8"}], "mark": {"type": "text", "align": "left", "baseline": "alphabetic", "dy": 48, "fontSize": 43, "font": "Liberation Serif", "color": "black"}, "encoding": {"x": {"datum": -20.55, "type": "quantitative", "axis": null}, "y": {"datum": 1.77, "type": "quantitative", "axis": {"values": [0, 1], "format": "d", "title": null}}, "text": {"field": "label"}}}
]},
{"width": 666, "height": 144, "layer": [
 {"data": {"name": "panels"}, "transform": [{"filter": "datum.isi == 9"}], "mark": {"type": "rule", "color": "#808080", "strokeWidth": 2, "clip": true}, "encoding": {"y": {"datum": 0, "type": "quantitative", "scale": {"domain": [-0.52, 1.77], "nice": false, "zero": false}, "axis": {"values": [0, 1], "format": "d", "title": null}}}},
 {"data": {"name": "vlines"}, "transform": [{"filter": "datum.isi == 9"}], "mark": {"type": "rule", "color": "#d3d3d3", "strokeWidth": 5, "strokeDash": [15, 7], "clip": true}, "encoding": {"x": {"field": "t", "type": "quantitative", "scale": {"domain": [-22, 22], "nice": false, "zero": false}, "axis": null}}},
 {"data": {"name": "lais"}, "transform": [{"filter": "datum.isi == 9"}], "mark": {"type": "area", "color": "#b0c4de", "opacity": 0.45, "clip": true}, "encoding": {"x": {"field": "t", "type": "quantitative", "scale": {"domain": [-22, 22], "nice": false, "zero": false}, "axis": null}, "y": {"field": "lo", "type": "quantitative", "scale": {"domain": [-0.52, 1.77], "nice": false, "zero": false}, "axis": {"values": [0, 1], "format": "d", "title": null}}, "y2": {"field": "hi"}}},
 {"data": {"name": "lais"}, "transform": [{"filter": "datum.isi == 9"}], "mark": {"type": "line", "color": "#4682b4"}, "encoding": {"x": {"field": "t", "type": "quantitative", "scale": {"domain": [-22, 22], "nice": false, "zero": false}, "axis": null}, "y": {"field": "m", "type": "quantitative", "scale": {"domain": [-0.52, 1.77], "nice": false, "zero": false}, "axis": {"values": [0, 1], "format": "d", "title": null}}}},
 {"data": {"name": "panels"}, "transform": [{"filter": "datum.isi == 9"}], "mark": {"type": "text", "align": "left", "baseline": "alphabetic", "dy": 48, "fontSize": 43, "font": "Liberation Serif", "color": "black"}, "encoding": {"x": {"datum": -20.55, "type": "quantitative", "axis": null}, "y": {"datum": 1.77, "type": "quantitative", "axis": {"values": [0, 1], "format": "d", "title": null}}, "text": {"field": "label"}}}
]},
{"width": 666, "height": 144, "layer": [
 {"data": {"name": "panels"}, "transform": [{"filter": "datum.isi == 10"}], "mark": {"type": "rule", "color": "#808080", "strokeWidth": 2, "clip": true}, "encoding": {"y": {"datum": 0, "type": "quantitative", "scale": {"domain": [-0.52, 1.77], "nice": false, "zero": false}, "axis": {"values": [0, 1], "format": "d", "title": "lAIS", "titleFontStyle": "italic", "titlePadding": 18}}}},
 {"data": {"name": "vlines"}, "transform": [{"filter": "datum.isi == 10"}], "mark": {"type": "rule", "color": "#d3d3d3", "strokeWidth": 5, "strokeDash": [15, 7], "clip": true}, "encoding": {"x": {"field": "t", "type": "quantitative", "scale": {"domain": [-22, 22], "nice": false, "zero": false}, "axis": {"values": [-20, -10, 0, 10, 20], "format": "d", "title": "t [ms]", "labelFlush": false, "labelPadding": 14, "titlePadding": 10}}}},
 {"data": {"name": "lais"}, "transform": [{"filter": "datum.isi == 10"}], "mark": {"type": "area", "color": "#b0c4de", "opacity": 0.45, "clip": true}, "encoding": {"x": {"field": "t", "type": "quantitative", "scale": {"domain": [-22, 22], "nice": false, "zero": false}, "axis": {"values": [-20, -10, 0, 10, 20], "format": "d", "title": "t [ms]", "labelFlush": false, "labelPadding": 14, "titlePadding": 10}}, "y": {"field": "lo", "type": "quantitative", "scale": {"domain": [-0.52, 1.77], "nice": false, "zero": false}, "axis": {"values": [0, 1], "format": "d", "title": "lAIS", "titleFontStyle": "italic", "titlePadding": 18}}, "y2": {"field": "hi"}}},
 {"data": {"name": "lais"}, "transform": [{"filter": "datum.isi == 10"}], "mark": {"type": "line", "color": "#4682b4"}, "encoding": {"x": {"field": "t", "type": "quantitative", "scale": {"domain": [-22, 22], "nice": false, "zero": false}, "axis": {"values": [-20, -10, 0, 10, 20], "format": "d", "title": "t [ms]", "labelFlush": false, "labelPadding": 14, "titlePadding": 10}}, "y": {"field": "m", "type": "quantitative", "scale": {"domain": [-0.52, 1.77], "nice": false, "zero": false}, "axis": {"values": [0, 1], "format": "d", "title": "lAIS", "titleFontStyle": "italic", "titlePadding": 18}}}},
 {"data": {"name": "panels"}, "transform": [{"filter": "datum.isi == 10"}], "mark": {"type": "text", "align": "left", "baseline": "alphabetic", "dy": 48, "fontSize": 43, "font": "Liberation Serif", "color": "black"}, "encoding": {"x": {"datum": -20.55, "type": "quantitative", "axis": {"values": [-20, -10, 0, 10, 20], "format": "d", "title": "t [ms]", "labelFlush": false, "labelPadding": 14, "titlePadding": 10}}, "y": {"datum": 1.77, "type": "quantitative", "axis": {"values": [0, 1], "format": "d", "title": "lAIS", "titleFontStyle": "italic", "titlePadding": 18}}, "text": {"field": "label"}}}
]}
]},
{"spacing": 0, "bounds": "flush", "vconcat": [
{"width": 666, "height": 144, "layer": [
 {"data": {"name": "panels"}, "transform": [{"filter": "datum.isi == 1"}], "mark": {"type": "rule", "color": "#808080", "strokeWidth": 2, "clip": true}, "encoding": {"y": {"datum": 0, "type": "quantitative", "scale": {"domain": [-0.051, 0.191], "nice": false, "zero": false}, "axis": {"values": [0, 0.1], "format": ".1f", "title": null}}}},
 {"data": {"name": "vlines"}, "transform": [{"filter": "datum.isi == 1"}], "mark": {"type": "rule", "color": "#d3d3d3", "strokeWidth": 5, "strokeDash": [15, 7], "clip": true}, "encoding": {"x": {"field": "t", "type": "quantitative", "scale": {"domain": [-22, 22], "nice": false, "zero": false}, "axis": null}}},
 {"data": {"name": "lte"}, "transform": [{"filter": "datum.isi == 1"}], "mark": {"type": "area", "color": "#fa8072", "opacity": 0.4, "clip": true}, "encoding": {"x": {"field": "t", "type": "quantitative", "scale": {"domain": [-22, 22], "nice": false, "zero": false}, "axis": null}, "y": {"field": "lo", "type": "quantitative", "scale": {"domain": [-0.051, 0.191], "nice": false, "zero": false}, "axis": {"values": [0, 0.1], "format": ".1f", "title": null}}, "y2": {"field": "hi"}}},
 {"data": {"name": "lte"}, "transform": [{"filter": "datum.isi == 1"}], "mark": {"type": "line", "color": "#cd5c5c"}, "encoding": {"x": {"field": "t", "type": "quantitative", "scale": {"domain": [-22, 22], "nice": false, "zero": false}, "axis": null}, "y": {"field": "m", "type": "quantitative", "scale": {"domain": [-0.051, 0.191], "nice": false, "zero": false}, "axis": {"values": [0, 0.1], "format": ".1f", "title": null}}}}
]},
{"width": 666, "height": 144, "layer": [
 {"data": {"name": "panels"}, "transform": [{"filter": "datum.isi == 2"}], "mark": {"type": "rule", "color": "#808080", "strokeWidth": 2, "clip": true}, "encoding": {"y": {"datum": 0, "type": "quantitative", "scale": {"domain": [-0.13, 0.49], "nice": false, "zero": false}, "axis": {"values": [0, 0.25], "format": ".2f", "title": null}}}},
 {"data": {"name": "vlines"}, "transform": [{"filter": "datum.isi == 2"}], "mark": {"type": "rule", "color": "#d3d3d3", "strokeWidth": 5, "strokeDash": [15, 7], "clip": true}, "encoding": {"x": {"field": "t", "type": "quantitative", "scale": {"domain": [-22, 22], "nice": false, "zero": false}, "axis": null}}},
 {"data": {"name": "lte"}, "transform": [{"filter": "datum.isi == 2"}], "mark": {"type": "area", "color": "#fa8072", "opacity": 0.4, "clip": true}, "encoding": {"x": {"field": "t", "type": "quantitative", "scale": {"domain": [-22, 22], "nice": false, "zero": false}, "axis": null}, "y": {"field": "lo", "type": "quantitative", "scale": {"domain": [-0.13, 0.49], "nice": false, "zero": false}, "axis": {"values": [0, 0.25], "format": ".2f", "title": null}}, "y2": {"field": "hi"}}},
 {"data": {"name": "lte"}, "transform": [{"filter": "datum.isi == 2"}], "mark": {"type": "line", "color": "#cd5c5c"}, "encoding": {"x": {"field": "t", "type": "quantitative", "scale": {"domain": [-22, 22], "nice": false, "zero": false}, "axis": null}, "y": {"field": "m", "type": "quantitative", "scale": {"domain": [-0.13, 0.49], "nice": false, "zero": false}, "axis": {"values": [0, 0.25], "format": ".2f", "title": null}}}}
]},
{"width": 666, "height": 144, "layer": [
 {"data": {"name": "panels"}, "transform": [{"filter": "datum.isi == 3"}], "mark": {"type": "rule", "color": "#808080", "strokeWidth": 2, "clip": true}, "encoding": {"y": {"datum": 0, "type": "quantitative", "scale": {"domain": [-0.226, 0.563], "nice": false, "zero": false}, "axis": {"values": [0, 0.5], "format": ".1f", "title": null}}}},
 {"data": {"name": "vlines"}, "transform": [{"filter": "datum.isi == 3"}], "mark": {"type": "rule", "color": "#d3d3d3", "strokeWidth": 5, "strokeDash": [15, 7], "clip": true}, "encoding": {"x": {"field": "t", "type": "quantitative", "scale": {"domain": [-22, 22], "nice": false, "zero": false}, "axis": null}}},
 {"data": {"name": "lte"}, "transform": [{"filter": "datum.isi == 3"}], "mark": {"type": "area", "color": "#fa8072", "opacity": 0.4, "clip": true}, "encoding": {"x": {"field": "t", "type": "quantitative", "scale": {"domain": [-22, 22], "nice": false, "zero": false}, "axis": null}, "y": {"field": "lo", "type": "quantitative", "scale": {"domain": [-0.226, 0.563], "nice": false, "zero": false}, "axis": {"values": [0, 0.5], "format": ".1f", "title": null}}, "y2": {"field": "hi"}}},
 {"data": {"name": "lte"}, "transform": [{"filter": "datum.isi == 3"}], "mark": {"type": "line", "color": "#cd5c5c"}, "encoding": {"x": {"field": "t", "type": "quantitative", "scale": {"domain": [-22, 22], "nice": false, "zero": false}, "axis": null}, "y": {"field": "m", "type": "quantitative", "scale": {"domain": [-0.226, 0.563], "nice": false, "zero": false}, "axis": {"values": [0, 0.5], "format": ".1f", "title": null}}}}
]},
{"width": 666, "height": 144, "layer": [
 {"data": {"name": "panels"}, "transform": [{"filter": "datum.isi == 4"}], "mark": {"type": "rule", "color": "#808080", "strokeWidth": 2, "clip": true}, "encoding": {"y": {"datum": 0, "type": "quantitative", "scale": {"domain": [-0.142, 0.478], "nice": false, "zero": false}, "axis": {"values": [0, 0.25], "format": ".2f", "title": null}}}},
 {"data": {"name": "vlines"}, "transform": [{"filter": "datum.isi == 4"}], "mark": {"type": "rule", "color": "#d3d3d3", "strokeWidth": 5, "strokeDash": [15, 7], "clip": true}, "encoding": {"x": {"field": "t", "type": "quantitative", "scale": {"domain": [-22, 22], "nice": false, "zero": false}, "axis": null}}},
 {"data": {"name": "lte"}, "transform": [{"filter": "datum.isi == 4"}], "mark": {"type": "area", "color": "#fa8072", "opacity": 0.4, "clip": true}, "encoding": {"x": {"field": "t", "type": "quantitative", "scale": {"domain": [-22, 22], "nice": false, "zero": false}, "axis": null}, "y": {"field": "lo", "type": "quantitative", "scale": {"domain": [-0.142, 0.478], "nice": false, "zero": false}, "axis": {"values": [0, 0.25], "format": ".2f", "title": null}}, "y2": {"field": "hi"}}},
 {"data": {"name": "lte"}, "transform": [{"filter": "datum.isi == 4"}], "mark": {"type": "line", "color": "#cd5c5c"}, "encoding": {"x": {"field": "t", "type": "quantitative", "scale": {"domain": [-22, 22], "nice": false, "zero": false}, "axis": null}, "y": {"field": "m", "type": "quantitative", "scale": {"domain": [-0.142, 0.478], "nice": false, "zero": false}, "axis": {"values": [0, 0.25], "format": ".2f", "title": null}}}}
]},
{"width": 666, "height": 144, "layer": [
 {"data": {"name": "panels"}, "transform": [{"filter": "datum.isi == 5"}], "mark": {"type": "rule", "color": "#808080", "strokeWidth": 2, "clip": true}, "encoding": {"y": {"datum": 0, "type": "quantitative", "scale": {"domain": [-0.164, 0.412], "nice": false, "zero": false}, "axis": {"values": [0, 0.25], "format": ".2f", "title": null}}}},
 {"data": {"name": "vlines"}, "transform": [{"filter": "datum.isi == 5"}], "mark": {"type": "rule", "color": "#d3d3d3", "strokeWidth": 5, "strokeDash": [15, 7], "clip": true}, "encoding": {"x": {"field": "t", "type": "quantitative", "scale": {"domain": [-22, 22], "nice": false, "zero": false}, "axis": null}}},
 {"data": {"name": "lte"}, "transform": [{"filter": "datum.isi == 5"}], "mark": {"type": "area", "color": "#fa8072", "opacity": 0.4, "clip": true}, "encoding": {"x": {"field": "t", "type": "quantitative", "scale": {"domain": [-22, 22], "nice": false, "zero": false}, "axis": null}, "y": {"field": "lo", "type": "quantitative", "scale": {"domain": [-0.164, 0.412], "nice": false, "zero": false}, "axis": {"values": [0, 0.25], "format": ".2f", "title": null}}, "y2": {"field": "hi"}}},
 {"data": {"name": "lte"}, "transform": [{"filter": "datum.isi == 5"}], "mark": {"type": "line", "color": "#cd5c5c"}, "encoding": {"x": {"field": "t", "type": "quantitative", "scale": {"domain": [-22, 22], "nice": false, "zero": false}, "axis": null}, "y": {"field": "m", "type": "quantitative", "scale": {"domain": [-0.164, 0.412], "nice": false, "zero": false}, "axis": {"values": [0, 0.25], "format": ".2f", "title": null}}}}
]},
{"width": 666, "height": 144, "layer": [
 {"data": {"name": "panels"}, "transform": [{"filter": "datum.isi == 6"}], "mark": {"type": "rule", "color": "#808080", "strokeWidth": 2, "clip": true}, "encoding": {"y": {"datum": 0, "type": "quantitative", "scale": {"domain": [-0.207, 0.463], "nice": false, "zero": false}, "axis": {"values": [0, 0.25], "format": ".2f", "title": null}}}},
 {"data": {"name": "vlines"}, "transform": [{"filter": "datum.isi == 6"}], "mark": {"type": "rule", "color": "#d3d3d3", "strokeWidth": 5, "strokeDash": [15, 7], "clip": true}, "encoding": {"x": {"field": "t", "type": "quantitative", "scale": {"domain": [-22, 22], "nice": false, "zero": false}, "axis": null}}},
 {"data": {"name": "lte"}, "transform": [{"filter": "datum.isi == 6"}], "mark": {"type": "area", "color": "#fa8072", "opacity": 0.4, "clip": true}, "encoding": {"x": {"field": "t", "type": "quantitative", "scale": {"domain": [-22, 22], "nice": false, "zero": false}, "axis": null}, "y": {"field": "lo", "type": "quantitative", "scale": {"domain": [-0.207, 0.463], "nice": false, "zero": false}, "axis": {"values": [0, 0.25], "format": ".2f", "title": null}}, "y2": {"field": "hi"}}},
 {"data": {"name": "lte"}, "transform": [{"filter": "datum.isi == 6"}], "mark": {"type": "line", "color": "#cd5c5c"}, "encoding": {"x": {"field": "t", "type": "quantitative", "scale": {"domain": [-22, 22], "nice": false, "zero": false}, "axis": null}, "y": {"field": "m", "type": "quantitative", "scale": {"domain": [-0.207, 0.463], "nice": false, "zero": false}, "axis": {"values": [0, 0.25], "format": ".2f", "title": null}}}}
]},
{"width": 666, "height": 144, "layer": [
 {"data": {"name": "panels"}, "transform": [{"filter": "datum.isi == 7"}], "mark": {"type": "rule", "color": "#808080", "strokeWidth": 2, "clip": true}, "encoding": {"y": {"datum": 0, "type": "quantitative", "scale": {"domain": [-0.175, 0.48], "nice": false, "zero": false}, "axis": {"values": [0, 0.25], "format": ".2f", "title": null}}}},
 {"data": {"name": "vlines"}, "transform": [{"filter": "datum.isi == 7"}], "mark": {"type": "rule", "color": "#d3d3d3", "strokeWidth": 5, "strokeDash": [15, 7], "clip": true}, "encoding": {"x": {"field": "t", "type": "quantitative", "scale": {"domain": [-22, 22], "nice": false, "zero": false}, "axis": null}}},
 {"data": {"name": "lte"}, "transform": [{"filter": "datum.isi == 7"}], "mark": {"type": "area", "color": "#fa8072", "opacity": 0.4, "clip": true}, "encoding": {"x": {"field": "t", "type": "quantitative", "scale": {"domain": [-22, 22], "nice": false, "zero": false}, "axis": null}, "y": {"field": "lo", "type": "quantitative", "scale": {"domain": [-0.175, 0.48], "nice": false, "zero": false}, "axis": {"values": [0, 0.25], "format": ".2f", "title": null}}, "y2": {"field": "hi"}}},
 {"data": {"name": "lte"}, "transform": [{"filter": "datum.isi == 7"}], "mark": {"type": "line", "color": "#cd5c5c"}, "encoding": {"x": {"field": "t", "type": "quantitative", "scale": {"domain": [-22, 22], "nice": false, "zero": false}, "axis": null}, "y": {"field": "m", "type": "quantitative", "scale": {"domain": [-0.175, 0.48], "nice": false, "zero": false}, "axis": {"values": [0, 0.25], "format": ".2f", "title": null}}}}
]},
{"width": 666, "height": 144, "layer": [
 {"data": {"name": "panels"}, "transform": [{"filter": "datum.isi == 8"}], "mark": {"type": "rule", "color": "#808080", "strokeWidth": 2, "clip": true}, "encoding": {"y": {"datum": 0, "type": "quantitative", "scale": {"domain": [-0.136, 0.356], "nice": false, "zero": false}, "axis": {"values": [0, 0.25], "format": ".2f", "title": null}}}},
 {"data": {"name": "vlines"}, "transform": [{"filter": "datum.isi == 8"}], "mark": {"type": "rule", "color": "#d3d3d3", "strokeWidth": 5, "strokeDash": [15, 7], "clip": true}, "encoding": {"x": {"field": "t", "type": "quantitative", "scale": {"domain": [-22, 22], "nice": false, "zero": false}, "axis": null}}},
 {"data": {"name": "lte"}, "transform": [{"filter": "datum.isi == 8"}], "mark": {"type": "area", "color": "#fa8072", "opacity": 0.4, "clip": true}, "encoding": {"x": {"field": "t", "type": "quantitative", "scale": {"domain": [-22, 22], "nice": false, "zero": false}, "axis": null}, "y": {"field": "lo", "type": "quantitative", "scale": {"domain": [-0.136, 0.356], "nice": false, "zero": false}, "axis": {"values": [0, 0.25], "format": ".2f", "title": null}}, "y2": {"field": "hi"}}},
 {"data": {"name": "lte"}, "transform": [{"filter": "datum.isi == 8"}], "mark": {"type": "line", "color": "#cd5c5c"}, "encoding": {"x": {"field": "t", "type": "quantitative", "scale": {"domain": [-22, 22], "nice": false, "zero": false}, "axis": null}, "y": {"field": "m", "type": "quantitative", "scale": {"domain": [-0.136, 0.356], "nice": false, "zero": false}, "axis": {"values": [0, 0.25], "format": ".2f", "title": null}}}}
]},
{"width": 666, "height": 144, "layer": [
 {"data": {"name": "panels"}, "transform": [{"filter": "datum.isi == 9"}], "mark": {"type": "rule", "color": "#808080", "strokeWidth": 2, "clip": true}, "encoding": {"y": {"datum": 0, "type": "quantitative", "scale": {"domain": [-0.156, 0.359], "nice": false, "zero": false}, "axis": {"values": [0, 0.25], "format": ".2f", "title": null}}}},
 {"data": {"name": "vlines"}, "transform": [{"filter": "datum.isi == 9"}], "mark": {"type": "rule", "color": "#d3d3d3", "strokeWidth": 5, "strokeDash": [15, 7], "clip": true}, "encoding": {"x": {"field": "t", "type": "quantitative", "scale": {"domain": [-22, 22], "nice": false, "zero": false}, "axis": null}}},
 {"data": {"name": "lte"}, "transform": [{"filter": "datum.isi == 9"}], "mark": {"type": "area", "color": "#fa8072", "opacity": 0.4, "clip": true}, "encoding": {"x": {"field": "t", "type": "quantitative", "scale": {"domain": [-22, 22], "nice": false, "zero": false}, "axis": null}, "y": {"field": "lo", "type": "quantitative", "scale": {"domain": [-0.156, 0.359], "nice": false, "zero": false}, "axis": {"values": [0, 0.25], "format": ".2f", "title": null}}, "y2": {"field": "hi"}}},
 {"data": {"name": "lte"}, "transform": [{"filter": "datum.isi == 9"}], "mark": {"type": "line", "color": "#cd5c5c"}, "encoding": {"x": {"field": "t", "type": "quantitative", "scale": {"domain": [-22, 22], "nice": false, "zero": false}, "axis": null}, "y": {"field": "m", "type": "quantitative", "scale": {"domain": [-0.156, 0.359], "nice": false, "zero": false}, "axis": {"values": [0, 0.25], "format": ".2f", "title": null}}}}
]},
{"width": 666, "height": 144, "layer": [
 {"data": {"name": "panels"}, "transform": [{"filter": "datum.isi == 10"}], "mark": {"type": "rule", "color": "#808080", "strokeWidth": 2, "clip": true}, "encoding": {"y": {"datum": 0, "type": "quantitative", "scale": {"domain": [-0.143, 0.293], "nice": false, "zero": false}, "axis": {"values": [0, 0.25], "format": ".2f", "title": "lTE", "titleFontStyle": "italic", "titlePadding": 21}}}},
 {"data": {"name": "vlines"}, "transform": [{"filter": "datum.isi == 10"}], "mark": {"type": "rule", "color": "#d3d3d3", "strokeWidth": 5, "strokeDash": [15, 7], "clip": true}, "encoding": {"x": {"field": "t", "type": "quantitative", "scale": {"domain": [-22, 22], "nice": false, "zero": false}, "axis": {"values": [-20, -10, 0, 10, 20], "format": "d", "title": "t [ms]", "labelFlush": false, "labelPadding": 14, "titlePadding": 10}}}},
 {"data": {"name": "lte"}, "transform": [{"filter": "datum.isi == 10"}], "mark": {"type": "area", "color": "#fa8072", "opacity": 0.4, "clip": true}, "encoding": {"x": {"field": "t", "type": "quantitative", "scale": {"domain": [-22, 22], "nice": false, "zero": false}, "axis": {"values": [-20, -10, 0, 10, 20], "format": "d", "title": "t [ms]", "labelFlush": false, "labelPadding": 14, "titlePadding": 10}}, "y": {"field": "lo", "type": "quantitative", "scale": {"domain": [-0.143, 0.293], "nice": false, "zero": false}, "axis": {"values": [0, 0.25], "format": ".2f", "title": "lTE", "titleFontStyle": "italic", "titlePadding": 21}}, "y2": {"field": "hi"}}},
 {"data": {"name": "lte"}, "transform": [{"filter": "datum.isi == 10"}], "mark": {"type": "line", "color": "#cd5c5c"}, "encoding": {"x": {"field": "t", "type": "quantitative", "scale": {"domain": [-22, 22], "nice": false, "zero": false}, "axis": {"values": [-20, -10, 0, 10, 20], "format": "d", "title": "t [ms]", "labelFlush": false, "labelPadding": 14, "titlePadding": 10}}, "y": {"field": "m", "type": "quantitative", "scale": {"domain": [-0.143, 0.293], "nice": false, "zero": false}, "axis": {"values": [0, 0.25], "format": ".2f", "title": "lTE", "titleFontStyle": "italic", "titlePadding": 21}}}}
]}
]}
]
}
